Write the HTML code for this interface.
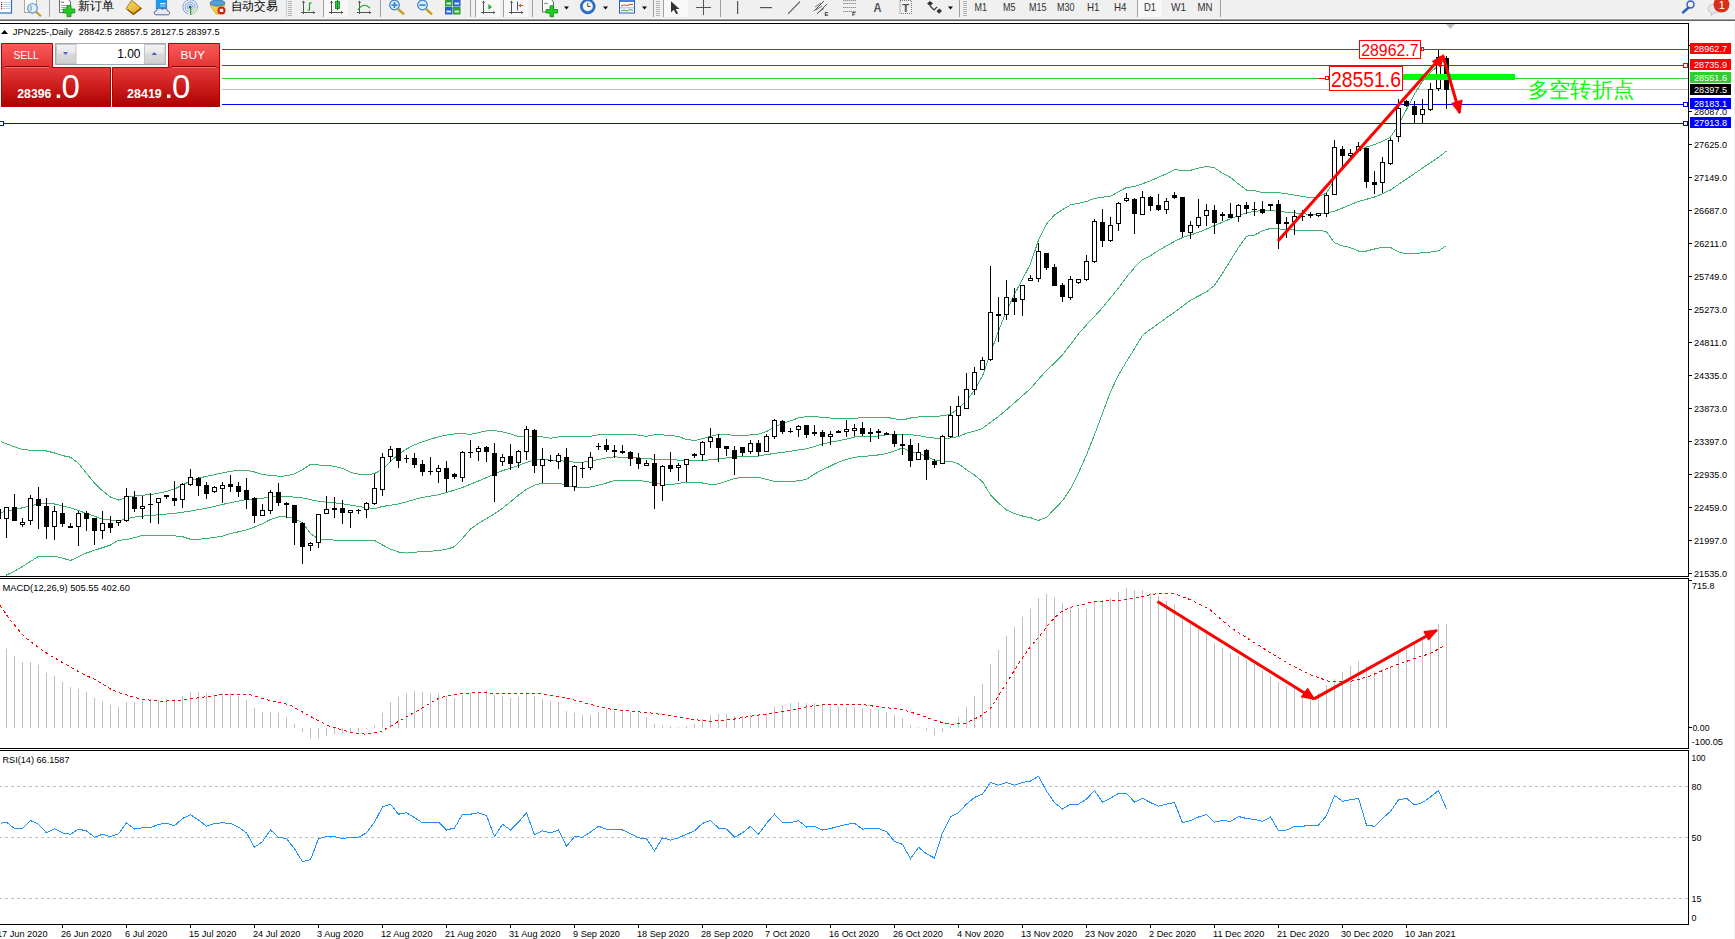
<!DOCTYPE html>
<html><head><meta charset="utf-8"><title>MT4</title>
<style>
html,body{margin:0;padding:0;width:1735px;height:939px;overflow:hidden;background:#fff}
svg{display:block}
text{font-family:"Liberation Sans", sans-serif}
</style></head><body>
<svg width="1735" height="939" viewBox="0 0 1735 939">
<rect x="0" y="0" width="1735" height="939" fill="#fff"/>
<rect x="0" y="0" width="1735" height="18" fill="#f0f0f0"/>
<rect x="0" y="18" width="1735" height="1" fill="#f5f5f5"/>
<rect x="0" y="19" width="1735" height="1" fill="#a0a0a0"/>
<rect x="0" y="20" width="1735" height="1" fill="#646464"/>
<rect x="-1.5" y="-1" width="13" height="14" fill="#fff" stroke="#2f6fc0" stroke-width="1.2"/>
<circle cx="1.6" cy="2.5" r="0.7" fill="#e02020"/>
<rect x="3" y="2.2" width="7.5" height="0.8" fill="#b8c8f0"/>
<circle cx="1.6" cy="4.5" r="0.7" fill="#303030"/>
<rect x="3" y="4.2" width="7.5" height="0.8" fill="#b8c8f0"/>
<circle cx="1.6" cy="6.5" r="0.7" fill="#303030"/>
<rect x="3" y="6.2" width="7.5" height="0.8" fill="#b8c8f0"/>
<circle cx="1.6" cy="8.5" r="0.7" fill="#e02020"/>
<rect x="3" y="8.2" width="7.5" height="0.8" fill="#b8c8f0"/>
<rect x="24.5" y="-1" width="12" height="13.5" fill="#fbfbf5" stroke="#b0a890" stroke-width="1"/>
<circle cx="32.5" cy="8.3" r="4.8" fill="#dff0fa" stroke="#5a90d8" stroke-width="1.2"/>
<path d="M31,5.5 V11" stroke="#9ab" stroke-width="1.5"/>
<path d="M36.3,12 L41,16.2" stroke="#c8a020" stroke-width="2.2"/>
<rect x="49" y="0" width="1" height="17" fill="#a0a0a0"/>
<path d="M59.5,-1 H68 L70.5,2 V12.5 H59.5 Z" fill="#fff" stroke="#666" stroke-width="1"/>
<rect x="61" y="1.5" width="3" height="1.5" fill="#999"/><rect x="61" y="5" width="6" height="0.8" fill="#888"/><rect x="61" y="7" width="6" height="0.8" fill="#888"/><rect x="61" y="9" width="5" height="0.8" fill="#888"/>
<path d="M67,5.5 H71 V9 H74.8 V12.9 H71 V16.7 H67 V12.9 H63.2 V9 H67 Z" fill="#22cc22" stroke="#0a8a0a" stroke-width="0.8"/>
<text x="77.5" y="10" font-size="12" fill="#000" textLength="36" lengthAdjust="spacingAndGlyphs">新订单</text>
<defs><linearGradient id="ggold" x1="0" y1="0" x2="1" y2="1"><stop offset="0" stop-color="#f8e070"/><stop offset="1" stop-color="#d8a010"/></linearGradient></defs>
<path d="M131.8,0.3 L141.7,8.5 L133.4,14.8 L126,8.5 Z" fill="url(#ggold)" stroke="#a86a10" stroke-width="0.9" stroke-linejoin="round"/>
<path d="M127.5,9.5 L133.5,14 L141,8.3" fill="none" stroke="#8a5208" stroke-width="1.3"/>
<path d="M156.3,-1 H166.6 V9 H156.3 Z" fill="#1a9af0" stroke="#1070c8" stroke-width="0.7"/>
<rect x="160" y="3" width="5.5" height="1.3" fill="#e8f6ff"/><rect x="160" y="5.5" width="5.5" height="1" fill="#9cd4ff"/>
<path d="M156,14.8 C153.5,14.8 153.5,10.8 156.3,10.8 C156.8,8.2 160.5,7.2 162,9.5 C163.5,8 167.5,8.2 167.5,11 C170.3,11 170.3,14.8 167.8,14.8 Z" fill="#e6eaf4" stroke="#4a5c90" stroke-width="0.9"/>
<g fill="none" stroke-width="0.9">
<path d="M188.202,13.981 A7.3,7.3 0 1 1 197.18099999999998,8.798" stroke="#4070d0" opacity="0.7"/>
<path d="M197.18099999999998,8.798 A7.3,7.3 0 0 1 191.56,14.054" stroke="#60a860" opacity="0.7"/>
<path d="M188.79999999999998,11.75 A5.0,5.0 0 1 1 194.95,8.200000000000001" stroke="#4070d0" opacity="0.7"/>
<path d="M194.95,8.200000000000001 A5.0,5.0 0 0 1 191.1,11.8" stroke="#60a860" opacity="0.7"/>
<path d="M189.346,9.713000000000001 A2.9,2.9 0 1 1 192.91299999999998,7.654" stroke="#4070d0" opacity="0.7"/>
<path d="M192.91299999999998,7.654 A2.9,2.9 0 0 1 190.68,9.742" stroke="#60a860" opacity="0.7"/>
</g>
<circle cx="190.1" cy="6.9" r="1.5" fill="#2050c0"/>
<rect x="190" y="7" width="1.2" height="8" fill="#20a020"/>
<path d="M210,5 Q217,-1 225,5 L219,14 L216,14 Z" fill="#f0d040" stroke="#c0a020" stroke-width="0.8"/>
<ellipse cx="217.5" cy="3" rx="7.5" ry="3" fill="#50a0d8" stroke="#3070b0" stroke-width="0.8"/>
<circle cx="221.5" cy="10.4" r="4" fill="#d02010"/><rect x="219.8" y="8.8" width="3.4" height="3.2" fill="#fff"/>
<text x="230.5" y="10" font-size="12" fill="#000" textLength="47" lengthAdjust="spacingAndGlyphs">自动交易</text>
<rect x="288" y="1" width="4" height="1" fill="#b4b4b4"/>
<rect x="288" y="3" width="4" height="1" fill="#b4b4b4"/>
<rect x="288" y="5" width="4" height="1" fill="#b4b4b4"/>
<rect x="288" y="7" width="4" height="1" fill="#b4b4b4"/>
<rect x="288" y="9" width="4" height="1" fill="#b4b4b4"/>
<rect x="288" y="11" width="4" height="1" fill="#b4b4b4"/>
<rect x="288" y="13" width="4" height="1" fill="#b4b4b4"/>
<rect x="288" y="15" width="4" height="1" fill="#b4b4b4"/>
<rect x="286" y="0" width="1" height="17" fill="#d0d0d0"/>
<g stroke="#555" stroke-width="1" fill="none" shape-rendering="crispEdges"><path d="M303.5,1 V14"/><path d="M301,12.5 H315"/></g>
<path d="M302,3 L303.5,0.5 L305,3 Z" fill="#555"/>
<path d="M313,11 L315.5,12.5 L313,14 Z" fill="#555"/>
<path d="M307.5,10 H309.5 V3 H311.8" fill="none" stroke="#20a020" stroke-width="1.2"/>
<rect x="323" y="0" width="1" height="17" fill="#a0a0a0"/>
<rect x="324" y="0" width="24" height="17" fill="#f8f8f8"/>
<g stroke="#555" stroke-width="1" fill="none" shape-rendering="crispEdges"><path d="M331.5,1 V14"/><path d="M329,12.5 H343"/></g>
<path d="M330,3 L331.5,0.5 L333,3 Z" fill="#555"/>
<path d="M341,11 L343.5,12.5 L341,14 Z" fill="#555"/>
<rect x="335.5" y="1.5" width="4" height="7" fill="#30d050" stroke="#108020" stroke-width="0.8"/>
<rect x="337" y="0" width="1" height="10" fill="#108020"/>
<g stroke="#555" stroke-width="1" fill="none" shape-rendering="crispEdges"><path d="M359.5,1 V14"/><path d="M357,12.5 H371"/></g>
<path d="M358,3 L359.5,0.5 L361,3 Z" fill="#555"/>
<path d="M369,11 L371.5,12.5 L369,14 Z" fill="#555"/>
<path d="M357.8,9.9 Q363.9,1.5 370,8.2" fill="none" stroke="#20a020" stroke-width="1.1"/>
<rect x="380" y="0" width="1" height="17" fill="#a0a0a0"/>
<path d="M398.0,9 L404.0,14.3" stroke="#c8a020" stroke-width="2.4"/>
<circle cx="394.5" cy="5" r="4.8" fill="#d8ecfa" stroke="#3a80d0" stroke-width="1.2"/>
<rect x="391.5" y="4.3" width="6" height="1.6" fill="#3a80d0"/>
<rect x="393.7" y="2" width="1.6" height="6" fill="#3a80d0"/>
<path d="M426.0,9 L432.0,14.3" stroke="#c8a020" stroke-width="2.4"/>
<circle cx="422.5" cy="5" r="4.8" fill="#d8ecfa" stroke="#3a80d0" stroke-width="1.2"/>
<rect x="419.5" y="4.3" width="6" height="1.6" fill="#3a80d0"/>
<rect x="445" y="-1" width="7.5" height="7.5" fill="#30a030"/>
<rect x="446.5" y="2.5" width="4.5" height="2" fill="#fff" opacity="0.85"/>
<rect x="453" y="-1" width="7.5" height="7.5" fill="#2a60d0"/>
<rect x="454.5" y="2.5" width="4.5" height="2" fill="#fff" opacity="0.85"/>
<rect x="445" y="7" width="7.5" height="7.5" fill="#2a60d0"/>
<rect x="446.5" y="10.5" width="4.5" height="2" fill="#fff" opacity="0.85"/>
<rect x="453" y="7" width="7.5" height="7.5" fill="#30a030"/>
<rect x="454.5" y="10.5" width="4.5" height="2" fill="#fff" opacity="0.85"/>
<rect x="470" y="0" width="1" height="17" fill="#a0a0a0"/>
<rect x="475" y="0" width="1" height="17" fill="#a0a0a0"/>
<rect x="476" y="0" width="24" height="17" fill="#f8f8f8"/>
<g stroke="#555" stroke-width="1" fill="none" shape-rendering="crispEdges"><path d="M483.5,1 V14"/><path d="M481,12.5 H495"/></g>
<path d="M482,3 L483.5,0.5 L485,3 Z" fill="#555"/>
<path d="M493,11 L495.5,12.5 L493,14 Z" fill="#555"/>
<path d="M488.4,4 L492,7 L488.4,9.8 Z" fill="#20b020"/>
<rect x="503" y="0" width="1" height="17" fill="#a0a0a0"/>
<rect x="504" y="0" width="24" height="17" fill="#f8f8f8"/>
<g stroke="#555" stroke-width="1" fill="none" shape-rendering="crispEdges"><path d="M511.5,1 V14"/><path d="M509,12.5 H523"/></g>
<path d="M510,3 L511.5,0.5 L513,3 Z" fill="#555"/>
<path d="M521,11 L523.5,12.5 L521,14 Z" fill="#555"/>
<rect x="517" y="1.5" width="1" height="9" fill="#2060c0"/>
<path d="M518.5,5.5 H523" stroke="#e05010" stroke-width="1"/><path d="M518.5,5.5 L521,3.5 L521,7.5 Z" fill="#e05010"/>
<rect x="532" y="0" width="1" height="17" fill="#a0a0a0"/>
<path d="M542.5,-1 H551 L553.5,2 V12 H542.5 Z" fill="#fff" stroke="#666" stroke-width="1"/>
<path d="M544,4 Q546,2 548,4" fill="none" stroke="#555" stroke-width="0.8"/>
<path d="M550,5.8 H553.5 V9.5 H557.6 V13 H553.5 V16.7 H550 V13 H546 V9.5 H550 Z" fill="#22cc22" stroke="#0a8a0a" stroke-width="0.8"/>
<path d="M564,6.5 L569,6.5 L566.5,9.5 Z" fill="#000"/>
<circle cx="587.8" cy="6.5" r="7.3" fill="#2a70d0" stroke="#1a50a0" stroke-width="0.8"/>
<circle cx="587.8" cy="6.3" r="5" fill="#f4f4f4"/>
<path d="M587.8,3 V6.5 H590.5" fill="none" stroke="#333" stroke-width="0.9"/>
<path d="M603,6.5 L608,6.5 L605.5,9.5 Z" fill="#000"/>
<rect x="619.5" y="-1" width="15" height="14" fill="#fff" stroke="#2a60c0" stroke-width="1"/>
<rect x="620" y="-1" width="14" height="3" fill="#4a80d8"/>
<path d="M621,6 L624,5 L627,5.5 L630,4.5 L633,4.5" fill="none" stroke="#c03020" stroke-width="0.9"/>
<rect x="620" y="7.5" width="14" height="0.8" fill="#7aa0e0"/>
<path d="M621,11 L624,10 L627,11 L630,9.5 L633,10.5" fill="none" stroke="#20a020" stroke-width="0.9"/>
<path d="M642,6.5 L647,6.5 L644.5,9.5 Z" fill="#000"/>
<rect x="653" y="0" width="1" height="17" fill="#a0a0a0"/>
<rect x="656" y="1" width="4" height="1" fill="#b4b4b4"/>
<rect x="656" y="3" width="4" height="1" fill="#b4b4b4"/>
<rect x="656" y="5" width="4" height="1" fill="#b4b4b4"/>
<rect x="656" y="7" width="4" height="1" fill="#b4b4b4"/>
<rect x="656" y="9" width="4" height="1" fill="#b4b4b4"/>
<rect x="656" y="11" width="4" height="1" fill="#b4b4b4"/>
<rect x="656" y="13" width="4" height="1" fill="#b4b4b4"/>
<rect x="656" y="15" width="4" height="1" fill="#b4b4b4"/>
<rect x="663" y="0" width="1" height="17" fill="#a0a0a0"/>
<rect x="664" y="0" width="24" height="17" fill="#f8f8f8"/>
<path d="M671,1.2 L671,12.5 L673.8,9.8 L676.2,14.2 L678,13.3 L675.7,9 L679.5,9 Z" fill="#333"/>
<g fill="#555"><rect x="703" y="0" width="1" height="15"/><rect x="696" y="7" width="15" height="1"/></g>
<rect x="720" y="0" width="1" height="17" fill="#a0a0a0"/>
<rect x="737" y="1" width="1.2" height="13" fill="#555"/>
<rect x="760" y="7" width="12" height="1.2" fill="#555"/>
<path d="M788,13.8 L800,1.7" stroke="#555" stroke-width="1.1"/>
<path d="M814,11 L824,1 M817,14 L827,4" stroke="#555" stroke-width="1"/>
<path d="M815,7 L821,3 M816,10 L822,6 M818,12.5 L824,8.5" stroke="#555" stroke-width="0.8"/>
<text x="824.5" y="15.5" font-size="6" font-weight="bold" fill="#333">E</text>
<path d="M843.3,0.6 H856" stroke="#555" stroke-width="0.9" stroke-dasharray="1 1"/>
<path d="M843.3,3.5 H856" stroke="#555" stroke-width="0.9" stroke-dasharray="1 1"/>
<path d="M843.3,7.5 H856" stroke="#555" stroke-width="0.9" stroke-dasharray="1 1"/>
<path d="M843.3,11.5 H856" stroke="#555" stroke-width="0.9" stroke-dasharray="1 1"/>
<text x="852" y="15.8" font-size="6" font-weight="bold" fill="#333">F</text>
<text x="873.5" y="11.5" font-size="12" font-weight="bold" fill="#555" textLength="8" lengthAdjust="spacingAndGlyphs">A</text>
<rect x="900" y="0.5" width="11.5" height="13" fill="none" stroke="#666" stroke-width="0.9" stroke-dasharray="1 1"/>
<text x="902.3" y="11.5" font-size="11" font-weight="bold" fill="#555" textLength="7" lengthAdjust="spacingAndGlyphs">T</text>
<path d="M927,3.5 L930,1 L933,3.5 L930,6 Z M936.5,11 L939.5,8.5 L942,11 L939,13.8 Z" fill="#333"/>
<path d="M930,6 L934,10 L937,7" fill="none" stroke="#333" stroke-width="1.2"/>
<path d="M948,6.5 L953,6.5 L950.5,9.5 Z" fill="#000"/>
<rect x="959" y="0" width="1" height="17" fill="#a0a0a0"/>
<rect x="963" y="1" width="4" height="1" fill="#b4b4b4"/>
<rect x="963" y="3" width="4" height="1" fill="#b4b4b4"/>
<rect x="963" y="5" width="4" height="1" fill="#b4b4b4"/>
<rect x="963" y="7" width="4" height="1" fill="#b4b4b4"/>
<rect x="963" y="9" width="4" height="1" fill="#b4b4b4"/>
<rect x="963" y="11" width="4" height="1" fill="#b4b4b4"/>
<rect x="963" y="13" width="4" height="1" fill="#b4b4b4"/>
<rect x="963" y="15" width="4" height="1" fill="#b4b4b4"/>
<text x="974.5" y="11" font-size="10.5" fill="#303030" textLength="12.5" lengthAdjust="spacingAndGlyphs">M1</text>
<text x="1003" y="11" font-size="10.5" fill="#303030" textLength="12.5" lengthAdjust="spacingAndGlyphs">M5</text>
<text x="1029" y="11" font-size="10.5" fill="#303030" textLength="17.5" lengthAdjust="spacingAndGlyphs">M15</text>
<text x="1057" y="11" font-size="10.5" fill="#303030" textLength="17.5" lengthAdjust="spacingAndGlyphs">M30</text>
<text x="1087" y="11" font-size="10.5" fill="#303030" textLength="12.5" lengthAdjust="spacingAndGlyphs">H1</text>
<text x="1114" y="11" font-size="10.5" fill="#303030" textLength="12.5" lengthAdjust="spacingAndGlyphs">H4</text>
<rect x="1138" y="0" width="24" height="17" fill="#f8f8f8"/>
<rect x="1137" y="0" width="1" height="17" fill="#a0a0a0"/>
<text x="1144" y="11" font-size="10.5" fill="#303030" textLength="12" lengthAdjust="spacingAndGlyphs">D1</text>
<text x="1171" y="11" font-size="10.5" fill="#303030" textLength="15" lengthAdjust="spacingAndGlyphs">W1</text>
<text x="1197.5" y="11" font-size="10.5" fill="#303030" textLength="15" lengthAdjust="spacingAndGlyphs">MN</text>
<rect x="1220" y="0" width="1" height="17" fill="#a0a0a0"/>
<path d="M1683,12.5 L1688,8" stroke="#2a60c0" stroke-width="2.5" stroke-linecap="round"/>
<circle cx="1690.5" cy="4.5" r="3.5" fill="none" stroke="#2a60c0" stroke-width="1.5"/>
<path d="M1708,9 Q1708,4.5 1714,4.5 Q1720,4.5 1720,9 Q1720,13 1714,13 L1711,15.5 L1711.5,12.8 Q1708,12 1708,9 Z" fill="#e4e8ee" stroke="#b8bcc4" stroke-width="0.8"/>
<circle cx="1721.5" cy="4.5" r="8" fill="#d83018"/>
<text x="1718.8" y="9" font-size="11" fill="#fff" font-family="Liberation Serif, serif">1</text>
<rect x="1734" y="21" width="1" height="918" fill="#f0f0f0"/>
<rect x="0" y="23" width="1689" height="1" fill="#000"/>
<rect x="0" y="576" width="1689" height="1" fill="#000"/>
<rect x="1688" y="23" width="1" height="554" fill="#000"/>
<path d="M1446,24 L1455,24 L1450.5,29 Z" fill="#c0c0c0"/>
<rect x="0" y="578" width="1689" height="1" fill="#000"/>
<rect x="0" y="748" width="1689" height="1" fill="#000"/>
<rect x="1688" y="578" width="1" height="171" fill="#000"/>
<rect x="0" y="750" width="1689" height="1" fill="#000"/>
<rect x="0" y="924" width="1689" height="1" fill="#000"/>
<rect x="1688" y="750" width="1" height="175" fill="#000"/>
<g shape-rendering="crispEdges">
<rect x="222" y="49" width="1466" height="1" fill="#ff0000"/>
<rect x="222" y="65" width="1466" height="1" fill="#ff0000"/>
<rect x="222" y="78" width="1466" height="1" fill="#32cd32"/>
<rect x="222" y="89" width="1466" height="1" fill="#c0c0c0"/>
<rect x="222" y="104" width="1466" height="1" fill="#0000ff"/>
<rect x="0" y="123" width="1688" height="1" fill="#0000ff"/>
</g>
<g><polyline points="0.5,441.6 6.5,443.8 14.5,446.8 22.5,449.5 30.5,450.3 38.5,450.8 46.5,451.0 54.5,453.0 62.5,455.6 70.5,457.2 78.5,463.4 86.5,473.3 94.5,483.0 102.5,490.8 110.5,497.0 118.5,500.0 126.5,497.5 134.5,495.9 142.5,495.2 150.5,494.6 158.5,493.1 166.5,491.6 174.5,489.0 182.5,485.1 190.5,480.8 198.5,478.2 206.5,476.3 214.5,474.6 222.5,472.9 230.5,471.2 238.5,470.6 246.5,470.3 254.5,472.0 262.5,474.5 270.5,475.4 278.5,476.2 286.5,475.9 294.5,473.8 302.5,469.6 310.5,464.4 318.5,465.0 326.5,465.4 334.5,466.3 342.5,468.3 350.5,472.4 358.5,474.1 366.5,474.9 374.5,473.6 382.5,469.2 390.5,461.5 398.5,454.3 406.5,449.0 414.5,444.9 422.5,441.8 430.5,439.2 438.5,436.8 446.5,435.1 454.5,434.0 462.5,433.5 470.5,434.4 478.5,432.6 486.5,430.9 494.5,430.6 502.5,431.9 510.5,433.7 518.5,436.6 526.5,436.7 534.5,436.5 542.5,437.0 550.5,438.2 558.5,437.0 566.5,436.6 574.5,436.4 582.5,436.3 590.5,436.3 598.5,434.7 606.5,434.3 614.5,434.3 622.5,434.3 630.5,434.4 638.5,435.1 646.5,436.4 654.5,434.6 662.5,434.9 670.5,435.5 678.5,436.5 686.5,439.5 694.5,440.5 702.5,438.7 710.5,436.3 718.5,434.5 726.5,434.6 734.5,435.4 742.5,435.4 750.5,434.9 758.5,434.2 766.5,431.6 774.5,427.1 782.5,423.4 790.5,420.8 798.5,417.9 806.5,416.7 814.5,416.6 822.5,417.3 830.5,418.1 838.5,418.6 846.5,418.6 854.5,418.6 862.5,417.3 870.5,417.3 878.5,417.3 886.5,417.3 894.5,418.7 902.5,420.0 910.5,418.0 918.5,416.9 926.5,416.5 934.5,416.2 942.5,415.9 950.5,414.4 958.5,408.2 966.5,401.0 974.5,390.0 982.5,375.9 990.5,353.4 998.5,330.9 1006.5,311.1 1014.5,294.2 1022.5,279.2 1030.5,263.8 1038.5,240.1 1046.5,223.9 1054.5,215.0 1062.5,209.7 1070.5,204.9 1078.5,203.3 1086.5,201.5 1094.5,198.4 1102.5,197.2 1110.5,196.3 1118.5,191.7 1126.5,187.5 1134.5,186.7 1142.5,183.8 1150.5,180.7 1158.5,177.3 1166.5,173.6 1174.5,169.8 1182.5,170.3 1190.5,170.3 1198.5,168.1 1206.5,166.4 1214.5,167.8 1222.5,173.3 1230.5,177.5 1238.5,184.0 1246.5,190.1 1254.5,190.6 1262.5,192.6 1270.5,192.6 1278.5,192.6 1286.5,193.7 1294.5,195.1 1302.5,196.5 1310.5,197.8 1318.5,196.9 1326.5,193.0 1334.5,180.0 1342.5,166.6 1350.5,157.7 1358.5,150.5 1366.5,147.0 1374.5,144.5 1382.5,141.4 1390.5,137.1 1398.5,124.9 1406.5,109.5 1414.5,94.1 1422.5,81.2 1430.5,72.4 1438.5,65.4 1446.5,58.0" fill="none" shape-rendering="crispEdges" stroke="#3cb371" stroke-width="1"/>
<polyline points="0.5,512.6 6.5,511.3 14.5,509.5 22.5,507.8 30.5,505.9 38.5,503.9 46.5,503.9 54.5,504.0 62.5,505.9 70.5,507.8 78.5,510.6 86.5,513.4 94.5,516.3 102.5,519.2 110.5,520.0 118.5,520.9 126.5,518.6 134.5,517.1 142.5,516.2 150.5,515.4 158.5,514.8 166.5,514.1 174.5,513.3 182.5,512.2 190.5,511.1 198.5,509.6 206.5,508.1 214.5,506.4 222.5,504.5 230.5,502.6 238.5,501.1 246.5,499.6 254.5,498.7 262.5,498.2 270.5,497.3 278.5,496.3 286.5,496.5 294.5,497.1 302.5,497.9 310.5,499.6 318.5,501.4 326.5,502.2 334.5,502.9 342.5,503.7 350.5,505.1 358.5,506.5 366.5,507.6 374.5,508.6 382.5,506.5 390.5,505.2 398.5,503.9 406.5,501.8 414.5,499.5 422.5,497.4 430.5,496.1 438.5,494.8 446.5,492.6 454.5,490.1 462.5,487.4 470.5,484.2 478.5,481.0 486.5,477.6 494.5,474.2 502.5,470.6 510.5,468.3 518.5,465.5 526.5,462.3 534.5,460.2 542.5,459.6 550.5,460.1 558.5,460.6 566.5,461.4 574.5,462.1 582.5,462.2 590.5,461.3 598.5,459.4 606.5,458.0 614.5,456.8 622.5,457.5 630.5,457.5 638.5,457.8 646.5,458.7 654.5,459.2 662.5,459.3 670.5,459.4 678.5,460.1 686.5,460.8 694.5,460.9 702.5,460.4 710.5,459.8 718.5,458.9 726.5,458.0 734.5,457.1 742.5,456.2 750.5,456.4 758.5,456.1 766.5,454.6 774.5,453.4 782.5,452.3 790.5,451.2 798.5,450.0 806.5,448.8 814.5,446.6 822.5,444.0 830.5,442.1 838.5,440.7 846.5,439.1 854.5,437.0 862.5,436.8 870.5,436.6 878.5,436.0 886.5,434.8 894.5,434.2 902.5,434.1 910.5,434.7 918.5,435.6 926.5,437.1 934.5,438.1 942.5,438.2 950.5,438.0 958.5,436.6 966.5,433.2 974.5,431.2 982.5,428.4 990.5,422.3 998.5,416.5 1006.5,409.8 1014.5,402.8 1022.5,395.6 1030.5,388.6 1038.5,379.4 1046.5,370.4 1054.5,363.0 1062.5,354.9 1070.5,344.4 1078.5,333.8 1086.5,324.8 1094.5,316.4 1102.5,307.6 1110.5,297.8 1118.5,288.0 1126.5,277.1 1134.5,267.6 1142.5,259.8 1150.5,255.7 1158.5,250.5 1166.5,245.8 1174.5,241.4 1182.5,237.5 1190.5,235.0 1198.5,232.3 1206.5,229.0 1214.5,225.6 1222.5,222.2 1230.5,218.7 1238.5,215.6 1246.5,212.7 1254.5,211.5 1262.5,210.5 1270.5,210.5 1278.5,211.4 1286.5,212.2 1294.5,212.8 1302.5,213.7 1310.5,214.5 1318.5,213.8 1326.5,213.1 1334.5,211.2 1342.5,208.0 1350.5,204.7 1358.5,201.4 1366.5,199.3 1374.5,197.0 1382.5,193.8 1390.5,190.0 1398.5,184.5 1406.5,179.0 1414.5,173.6 1422.5,168.1 1430.5,162.7 1438.5,157.3 1446.5,151.1" fill="none" shape-rendering="crispEdges" stroke="#3cb371" stroke-width="1"/>
<polyline points="7.0,575.0 6.5,575.0 14.5,571.2 22.5,566.4 30.5,561.4 38.5,556.3 46.5,556.3 54.5,556.3 62.5,558.1 70.5,560.5 78.5,556.8 86.5,553.0 94.5,550.3 102.5,547.7 110.5,545.0 118.5,540.3 126.5,539.6 134.5,537.7 142.5,535.4 150.5,535.4 158.5,535.4 166.5,535.6 174.5,535.9 182.5,536.7 190.5,539.3 198.5,539.3 206.5,538.5 214.5,537.5 222.5,536.1 230.5,533.5 238.5,531.8 246.5,529.9 254.5,527.0 262.5,523.7 270.5,519.5 278.5,516.9 286.5,516.9 294.5,518.3 302.5,523.1 310.5,533.5 318.5,539.2 326.5,539.7 334.5,540.1 342.5,540.2 350.5,540.4 358.5,540.4 366.5,540.4 374.5,540.4 382.5,545.0 390.5,549.2 398.5,552.0 406.5,553.1 414.5,552.3 422.5,551.5 430.5,551.3 438.5,550.5 446.5,549.3 454.5,546.7 462.5,538.4 470.5,529.1 478.5,523.3 486.5,518.7 494.5,513.7 502.5,508.3 510.5,501.7 518.5,495.1 526.5,489.3 534.5,485.1 542.5,483.0 550.5,483.0 558.5,483.0 566.5,485.4 574.5,487.2 582.5,487.3 590.5,487.0 598.5,485.2 606.5,483.0 614.5,480.4 622.5,480.2 630.5,480.4 638.5,480.7 646.5,481.3 654.5,483.5 662.5,484.3 670.5,484.9 678.5,483.4 686.5,482.1 694.5,482.5 702.5,483.0 710.5,484.4 718.5,483.9 726.5,481.1 734.5,478.4 742.5,477.4 750.5,477.4 758.5,477.4 766.5,479.4 774.5,481.5 782.5,481.5 790.5,481.5 798.5,480.8 806.5,479.4 814.5,474.0 822.5,469.9 830.5,466.0 838.5,462.1 846.5,459.5 854.5,457.3 862.5,456.4 870.5,455.8 878.5,454.9 886.5,453.5 894.5,450.9 902.5,447.9 910.5,451.8 918.5,453.3 926.5,456.4 934.5,460.0 942.5,461.0 950.5,461.3 958.5,463.9 966.5,469.8 974.5,475.1 982.5,481.7 990.5,494.8 998.5,503.1 1006.5,510.0 1014.5,513.7 1022.5,516.0 1030.5,517.7 1038.5,520.4 1046.5,517.4 1054.5,509.1 1062.5,500.7 1070.5,488.9 1078.5,473.0 1086.5,454.9 1094.5,434.8 1102.5,413.3 1110.5,391.9 1118.5,374.9 1126.5,361.5 1134.5,348.7 1142.5,335.2 1150.5,329.4 1158.5,323.6 1166.5,317.8 1174.5,312.2 1182.5,306.4 1190.5,300.3 1198.5,296.0 1206.5,291.9 1214.5,285.4 1222.5,273.3 1230.5,260.4 1238.5,247.5 1246.5,236.3 1254.5,235.1 1262.5,230.9 1270.5,228.4 1278.5,228.9 1286.5,229.7 1294.5,230.0 1302.5,230.0 1310.5,230.0 1318.5,230.0 1326.5,231.8 1334.5,242.8 1342.5,245.8 1350.5,247.7 1358.5,251.0 1366.5,251.0 1374.5,249.0 1382.5,247.1 1390.5,247.5 1398.5,251.9 1406.5,253.8 1414.5,253.5 1422.5,252.8 1430.5,252.1 1438.5,250.8 1446.5,245.6" fill="none" shape-rendering="crispEdges" stroke="#3cb371" stroke-width="1"/></g>
<g fill="#000" shape-rendering="crispEdges"><rect x="-2" y="507" width="1" height="2"/>
<rect x="-2" y="519" width="1" height="2"/>
<rect x="-4" y="509" width="5" height="10"/>
<rect x="6" y="519" width="1" height="19"/>
<rect x="4" y="507" width="5" height="12"/>
<rect x="5" y="508" width="3" height="10" fill="#fff"/>
<rect x="14" y="494" width="1" height="13"/>
<rect x="12" y="507" width="5" height="14"/>
<rect x="22" y="518" width="1" height="4"/>
<rect x="22" y="525" width="1" height="2"/>
<rect x="20" y="522" width="5" height="3"/>
<rect x="21" y="523" width="3" height="1" fill="#fff"/>
<rect x="30" y="495" width="1" height="3"/>
<rect x="30" y="521" width="1" height="4"/>
<rect x="28" y="498" width="5" height="23"/>
<rect x="29" y="499" width="3" height="21" fill="#fff"/>
<rect x="38" y="487" width="1" height="12"/>
<rect x="38" y="506" width="1" height="23"/>
<rect x="36" y="499" width="5" height="7"/>
<rect x="46" y="498" width="1" height="8"/>
<rect x="46" y="527" width="1" height="12"/>
<rect x="44" y="506" width="5" height="21"/>
<rect x="54" y="506" width="1" height="5"/>
<rect x="54" y="527" width="1" height="13"/>
<rect x="52" y="511" width="5" height="16"/>
<rect x="53" y="512" width="3" height="14" fill="#fff"/>
<rect x="62" y="503" width="1" height="10"/>
<rect x="62" y="524" width="1" height="3"/>
<rect x="60" y="513" width="5" height="11"/>
<rect x="70" y="523" width="1" height="3"/>
<rect x="68" y="526" width="5" height="2"/>
<rect x="78" y="511" width="1" height="2"/>
<rect x="78" y="527" width="1" height="19"/>
<rect x="76" y="513" width="5" height="14"/>
<rect x="77" y="514" width="3" height="12" fill="#fff"/>
<rect x="86" y="511" width="1" height="2"/>
<rect x="86" y="519" width="1" height="12"/>
<rect x="84" y="513" width="5" height="6"/>
<rect x="94" y="531" width="1" height="14"/>
<rect x="92" y="518" width="5" height="13"/>
<rect x="102" y="511" width="1" height="12"/>
<rect x="102" y="531" width="1" height="8"/>
<rect x="100" y="523" width="5" height="8"/>
<rect x="101" y="524" width="3" height="6" fill="#fff"/>
<rect x="110" y="516" width="1" height="7"/>
<rect x="110" y="528" width="1" height="5"/>
<rect x="108" y="523" width="5" height="5"/>
<rect x="118" y="523" width="1" height="3"/>
<rect x="116" y="520" width="5" height="3"/>
<rect x="117" y="521" width="3" height="1" fill="#fff"/>
<rect x="126" y="488" width="1" height="8"/>
<rect x="126" y="521" width="1" height="1"/>
<rect x="124" y="496" width="5" height="25"/>
<rect x="125" y="497" width="3" height="23" fill="#fff"/>
<rect x="134" y="491" width="1" height="6"/>
<rect x="134" y="509" width="1" height="3"/>
<rect x="132" y="497" width="5" height="12"/>
<rect x="142" y="496" width="1" height="10"/>
<rect x="142" y="508" width="1" height="11"/>
<rect x="140" y="506" width="5" height="3"/>
<rect x="141" y="507" width="3" height="1" fill="#fff"/>
<rect x="150" y="493" width="1" height="11"/>
<rect x="150" y="505" width="1" height="18"/>
<rect x="148" y="504" width="5" height="1"/>
<rect x="158" y="503" width="1" height="21"/>
<rect x="156" y="498" width="5" height="5"/>
<rect x="157" y="499" width="3" height="3" fill="#fff"/>
<rect x="166" y="497" width="1" height="2"/>
<rect x="164" y="495" width="5" height="2"/>
<rect x="174" y="481" width="1" height="17"/>
<rect x="174" y="501" width="1" height="5"/>
<rect x="172" y="498" width="5" height="3"/>
<rect x="182" y="483" width="1" height="1"/>
<rect x="182" y="500" width="1" height="8"/>
<rect x="180" y="484" width="5" height="16"/>
<rect x="181" y="485" width="3" height="14" fill="#fff"/>
<rect x="190" y="469" width="1" height="8"/>
<rect x="190" y="485" width="1" height="1"/>
<rect x="188" y="477" width="5" height="8"/>
<rect x="189" y="478" width="3" height="6" fill="#fff"/>
<rect x="198" y="477" width="1" height="1"/>
<rect x="198" y="486" width="1" height="10"/>
<rect x="196" y="478" width="5" height="8"/>
<rect x="206" y="482" width="1" height="3"/>
<rect x="206" y="494" width="1" height="5"/>
<rect x="204" y="485" width="5" height="9"/>
<rect x="214" y="486" width="1" height="1"/>
<rect x="214" y="492" width="1" height="1"/>
<rect x="212" y="487" width="5" height="5"/>
<rect x="213" y="488" width="3" height="3" fill="#fff"/>
<rect x="222" y="482" width="1" height="3"/>
<rect x="222" y="489" width="1" height="14"/>
<rect x="220" y="485" width="5" height="4"/>
<rect x="221" y="486" width="3" height="2" fill="#fff"/>
<rect x="230" y="475" width="1" height="9"/>
<rect x="230" y="487" width="1" height="5"/>
<rect x="228" y="484" width="5" height="3"/>
<rect x="238" y="482" width="1" height="4"/>
<rect x="238" y="492" width="1" height="5"/>
<rect x="236" y="486" width="5" height="6"/>
<rect x="246" y="478" width="1" height="12"/>
<rect x="246" y="500" width="1" height="9"/>
<rect x="244" y="490" width="5" height="10"/>
<rect x="254" y="497" width="1" height="1"/>
<rect x="254" y="516" width="1" height="7"/>
<rect x="252" y="498" width="5" height="18"/>
<rect x="262" y="504" width="1" height="6"/>
<rect x="260" y="510" width="5" height="6"/>
<rect x="261" y="511" width="3" height="4" fill="#fff"/>
<rect x="270" y="490" width="1" height="2"/>
<rect x="270" y="511" width="1" height="3"/>
<rect x="268" y="492" width="5" height="19"/>
<rect x="269" y="493" width="3" height="17" fill="#fff"/>
<rect x="278" y="483" width="1" height="9"/>
<rect x="278" y="503" width="1" height="3"/>
<rect x="276" y="492" width="5" height="11"/>
<rect x="286" y="502" width="1" height="1"/>
<rect x="286" y="505" width="1" height="13"/>
<rect x="284" y="503" width="5" height="2"/>
<rect x="294" y="523" width="1" height="22"/>
<rect x="292" y="505" width="5" height="18"/>
<rect x="302" y="522" width="1" height="1"/>
<rect x="302" y="547" width="1" height="17"/>
<rect x="300" y="523" width="5" height="24"/>
<rect x="310" y="542" width="1" height="1"/>
<rect x="310" y="546" width="1" height="5"/>
<rect x="308" y="543" width="5" height="3"/>
<rect x="309" y="544" width="3" height="1" fill="#fff"/>
<rect x="318" y="543" width="1" height="5"/>
<rect x="316" y="514" width="5" height="29"/>
<rect x="317" y="515" width="3" height="27" fill="#fff"/>
<rect x="326" y="496" width="1" height="13"/>
<rect x="324" y="509" width="5" height="5"/>
<rect x="325" y="510" width="3" height="3" fill="#fff"/>
<rect x="334" y="497" width="1" height="11"/>
<rect x="334" y="510" width="1" height="8"/>
<rect x="332" y="508" width="5" height="2"/>
<rect x="342" y="500" width="1" height="8"/>
<rect x="342" y="513" width="1" height="11"/>
<rect x="340" y="508" width="5" height="5"/>
<rect x="350" y="513" width="1" height="15"/>
<rect x="348" y="510" width="5" height="3"/>
<rect x="349" y="511" width="3" height="1" fill="#fff"/>
<rect x="358" y="509" width="1" height="1"/>
<rect x="358" y="511" width="1" height="3"/>
<rect x="356" y="510" width="5" height="1"/>
<rect x="366" y="502" width="1" height="1"/>
<rect x="366" y="510" width="1" height="8"/>
<rect x="364" y="503" width="5" height="7"/>
<rect x="365" y="504" width="3" height="5" fill="#fff"/>
<rect x="374" y="474" width="1" height="14"/>
<rect x="374" y="504" width="1" height="1"/>
<rect x="372" y="488" width="5" height="16"/>
<rect x="373" y="489" width="3" height="14" fill="#fff"/>
<rect x="382" y="453" width="1" height="4"/>
<rect x="382" y="490" width="1" height="6"/>
<rect x="380" y="457" width="5" height="33"/>
<rect x="381" y="458" width="3" height="31" fill="#fff"/>
<rect x="390" y="446" width="1" height="3"/>
<rect x="390" y="457" width="1" height="5"/>
<rect x="388" y="449" width="5" height="8"/>
<rect x="389" y="450" width="3" height="6" fill="#fff"/>
<rect x="398" y="461" width="1" height="7"/>
<rect x="396" y="448" width="5" height="13"/>
<rect x="406" y="455" width="1" height="3"/>
<rect x="406" y="459" width="1" height="4"/>
<rect x="404" y="458" width="5" height="1"/>
<rect x="414" y="453" width="1" height="5"/>
<rect x="414" y="465" width="1" height="3"/>
<rect x="412" y="458" width="5" height="7"/>
<rect x="422" y="460" width="1" height="4"/>
<rect x="422" y="472" width="1" height="4"/>
<rect x="420" y="464" width="5" height="8"/>
<rect x="430" y="457" width="1" height="14"/>
<rect x="430" y="472" width="1" height="3"/>
<rect x="428" y="471" width="5" height="1"/>
<rect x="438" y="465" width="1" height="3"/>
<rect x="438" y="472" width="1" height="11"/>
<rect x="436" y="468" width="5" height="4"/>
<rect x="437" y="469" width="3" height="2" fill="#fff"/>
<rect x="446" y="461" width="1" height="7"/>
<rect x="446" y="479" width="1" height="13"/>
<rect x="444" y="468" width="5" height="11"/>
<rect x="454" y="473" width="1" height="1"/>
<rect x="454" y="477" width="1" height="2"/>
<rect x="452" y="474" width="5" height="3"/>
<rect x="462" y="451" width="1" height="1"/>
<rect x="462" y="478" width="1" height="4"/>
<rect x="460" y="452" width="5" height="26"/>
<rect x="461" y="453" width="3" height="24" fill="#fff"/>
<rect x="470" y="440" width="1" height="12"/>
<rect x="470" y="453" width="1" height="5"/>
<rect x="468" y="452" width="5" height="1"/>
<rect x="478" y="446" width="1" height="2"/>
<rect x="478" y="452" width="1" height="9"/>
<rect x="476" y="448" width="5" height="4"/>
<rect x="477" y="449" width="3" height="2" fill="#fff"/>
<rect x="486" y="446" width="1" height="1"/>
<rect x="486" y="452" width="1" height="10"/>
<rect x="484" y="447" width="5" height="5"/>
<rect x="494" y="443" width="1" height="10"/>
<rect x="494" y="476" width="1" height="26"/>
<rect x="492" y="453" width="5" height="23"/>
<rect x="502" y="454" width="1" height="3"/>
<rect x="502" y="462" width="1" height="4"/>
<rect x="500" y="457" width="5" height="5"/>
<rect x="501" y="458" width="3" height="3" fill="#fff"/>
<rect x="510" y="444" width="1" height="12"/>
<rect x="510" y="464" width="1" height="6"/>
<rect x="508" y="456" width="5" height="8"/>
<rect x="518" y="450" width="1" height="1"/>
<rect x="518" y="463" width="1" height="5"/>
<rect x="516" y="451" width="5" height="12"/>
<rect x="517" y="452" width="3" height="10" fill="#fff"/>
<rect x="526" y="426" width="1" height="3"/>
<rect x="526" y="452" width="1" height="8"/>
<rect x="524" y="429" width="5" height="23"/>
<rect x="525" y="430" width="3" height="21" fill="#fff"/>
<rect x="534" y="429" width="1" height="1"/>
<rect x="534" y="466" width="1" height="7"/>
<rect x="532" y="430" width="5" height="36"/>
<rect x="542" y="448" width="1" height="11"/>
<rect x="542" y="466" width="1" height="17"/>
<rect x="540" y="459" width="5" height="7"/>
<rect x="541" y="460" width="3" height="5" fill="#fff"/>
<rect x="550" y="455" width="1" height="5"/>
<rect x="550" y="461" width="1" height="1"/>
<rect x="548" y="460" width="5" height="1"/>
<rect x="558" y="453" width="1" height="2"/>
<rect x="558" y="462" width="1" height="7"/>
<rect x="556" y="455" width="5" height="7"/>
<rect x="557" y="456" width="3" height="5" fill="#fff"/>
<rect x="566" y="448" width="1" height="9"/>
<rect x="564" y="457" width="5" height="30"/>
<rect x="574" y="465" width="1" height="1"/>
<rect x="574" y="487" width="1" height="4"/>
<rect x="572" y="466" width="5" height="21"/>
<rect x="573" y="467" width="3" height="19" fill="#fff"/>
<rect x="582" y="462" width="1" height="6"/>
<rect x="582" y="469" width="1" height="9"/>
<rect x="580" y="468" width="5" height="1"/>
<rect x="590" y="452" width="1" height="5"/>
<rect x="590" y="468" width="1" height="2"/>
<rect x="588" y="457" width="5" height="11"/>
<rect x="589" y="458" width="3" height="9" fill="#fff"/>
<rect x="598" y="443" width="1" height="3"/>
<rect x="598" y="447" width="1" height="3"/>
<rect x="596" y="446" width="5" height="1"/>
<rect x="606" y="439" width="1" height="6"/>
<rect x="606" y="450" width="1" height="2"/>
<rect x="604" y="445" width="5" height="5"/>
<rect x="614" y="445" width="1" height="5"/>
<rect x="614" y="452" width="1" height="6"/>
<rect x="612" y="450" width="5" height="2"/>
<rect x="622" y="445" width="1" height="6"/>
<rect x="622" y="453" width="1" height="1"/>
<rect x="620" y="451" width="5" height="2"/>
<rect x="630" y="451" width="1" height="1"/>
<rect x="630" y="459" width="1" height="7"/>
<rect x="628" y="452" width="5" height="7"/>
<rect x="638" y="453" width="1" height="5"/>
<rect x="638" y="464" width="1" height="5"/>
<rect x="636" y="458" width="5" height="6"/>
<rect x="646" y="460" width="1" height="3"/>
<rect x="644" y="463" width="5" height="3"/>
<rect x="645" y="464" width="3" height="1" fill="#fff"/>
<rect x="654" y="454" width="1" height="9"/>
<rect x="654" y="486" width="1" height="23"/>
<rect x="652" y="463" width="5" height="23"/>
<rect x="662" y="465" width="1" height="1"/>
<rect x="662" y="486" width="1" height="15"/>
<rect x="660" y="466" width="5" height="20"/>
<rect x="661" y="467" width="3" height="18" fill="#fff"/>
<rect x="670" y="452" width="1" height="13"/>
<rect x="670" y="469" width="1" height="3"/>
<rect x="668" y="465" width="5" height="4"/>
<rect x="678" y="463" width="1" height="2"/>
<rect x="678" y="468" width="1" height="13"/>
<rect x="676" y="465" width="5" height="3"/>
<rect x="677" y="466" width="3" height="1" fill="#fff"/>
<rect x="686" y="465" width="1" height="17"/>
<rect x="684" y="459" width="5" height="6"/>
<rect x="685" y="460" width="3" height="4" fill="#fff"/>
<rect x="694" y="453" width="1" height="1"/>
<rect x="694" y="456" width="1" height="2"/>
<rect x="692" y="454" width="5" height="2"/>
<rect x="702" y="441" width="1" height="1"/>
<rect x="702" y="455" width="1" height="6"/>
<rect x="700" y="442" width="5" height="13"/>
<rect x="701" y="443" width="3" height="11" fill="#fff"/>
<rect x="710" y="428" width="1" height="9"/>
<rect x="710" y="442" width="1" height="6"/>
<rect x="708" y="437" width="5" height="5"/>
<rect x="709" y="438" width="3" height="3" fill="#fff"/>
<rect x="718" y="434" width="1" height="4"/>
<rect x="718" y="448" width="1" height="14"/>
<rect x="716" y="438" width="5" height="10"/>
<rect x="726" y="449" width="1" height="7"/>
<rect x="724" y="446" width="5" height="3"/>
<rect x="734" y="446" width="1" height="4"/>
<rect x="734" y="459" width="1" height="16"/>
<rect x="732" y="450" width="5" height="9"/>
<rect x="742" y="453" width="1" height="3"/>
<rect x="740" y="447" width="5" height="6"/>
<rect x="750" y="440" width="1" height="3"/>
<rect x="750" y="452" width="1" height="2"/>
<rect x="748" y="443" width="5" height="9"/>
<rect x="749" y="444" width="3" height="7" fill="#fff"/>
<rect x="758" y="440" width="1" height="3"/>
<rect x="758" y="452" width="1" height="4"/>
<rect x="756" y="443" width="5" height="9"/>
<rect x="766" y="434" width="1" height="2"/>
<rect x="764" y="436" width="5" height="16"/>
<rect x="765" y="437" width="3" height="14" fill="#fff"/>
<rect x="774" y="419" width="1" height="1"/>
<rect x="774" y="437" width="1" height="2"/>
<rect x="772" y="420" width="5" height="17"/>
<rect x="773" y="421" width="3" height="15" fill="#fff"/>
<rect x="782" y="420" width="1" height="1"/>
<rect x="782" y="432" width="1" height="2"/>
<rect x="780" y="421" width="5" height="11"/>
<rect x="790" y="428" width="1" height="3"/>
<rect x="790" y="432" width="1" height="1"/>
<rect x="788" y="431" width="5" height="1"/>
<rect x="798" y="425" width="1" height="1"/>
<rect x="798" y="430" width="1" height="7"/>
<rect x="796" y="426" width="5" height="4"/>
<rect x="797" y="427" width="3" height="2" fill="#fff"/>
<rect x="806" y="435" width="1" height="3"/>
<rect x="804" y="425" width="5" height="10"/>
<rect x="814" y="425" width="1" height="7"/>
<rect x="814" y="434" width="1" height="2"/>
<rect x="812" y="432" width="5" height="2"/>
<rect x="822" y="430" width="1" height="2"/>
<rect x="822" y="437" width="1" height="9"/>
<rect x="820" y="432" width="5" height="5"/>
<rect x="830" y="431" width="1" height="3"/>
<rect x="830" y="437" width="1" height="8"/>
<rect x="828" y="434" width="5" height="3"/>
<rect x="829" y="435" width="3" height="1" fill="#fff"/>
<rect x="838" y="430" width="1" height="1"/>
<rect x="836" y="431" width="5" height="2"/>
<rect x="846" y="420" width="1" height="9"/>
<rect x="846" y="432" width="1" height="5"/>
<rect x="844" y="429" width="5" height="3"/>
<rect x="845" y="430" width="3" height="1" fill="#fff"/>
<rect x="854" y="424" width="1" height="4"/>
<rect x="854" y="431" width="1" height="5"/>
<rect x="852" y="428" width="5" height="3"/>
<rect x="853" y="429" width="3" height="1" fill="#fff"/>
<rect x="862" y="422" width="1" height="6"/>
<rect x="862" y="434" width="1" height="2"/>
<rect x="860" y="428" width="5" height="6"/>
<rect x="870" y="428" width="1" height="4"/>
<rect x="870" y="434" width="1" height="8"/>
<rect x="868" y="432" width="5" height="2"/>
<rect x="878" y="429" width="1" height="2"/>
<rect x="878" y="433" width="1" height="6"/>
<rect x="876" y="431" width="5" height="2"/>
<rect x="886" y="432" width="1" height="1"/>
<rect x="884" y="433" width="5" height="2"/>
<rect x="894" y="431" width="1" height="3"/>
<rect x="894" y="444" width="1" height="3"/>
<rect x="892" y="434" width="5" height="10"/>
<rect x="902" y="434" width="1" height="10"/>
<rect x="902" y="446" width="1" height="9"/>
<rect x="900" y="444" width="5" height="2"/>
<rect x="910" y="439" width="1" height="6"/>
<rect x="910" y="461" width="1" height="6"/>
<rect x="908" y="445" width="5" height="16"/>
<rect x="918" y="443" width="1" height="9"/>
<rect x="916" y="452" width="5" height="8"/>
<rect x="917" y="453" width="3" height="6" fill="#fff"/>
<rect x="926" y="449" width="1" height="1"/>
<rect x="926" y="460" width="1" height="20"/>
<rect x="924" y="450" width="5" height="10"/>
<rect x="934" y="459" width="1" height="2"/>
<rect x="934" y="465" width="1" height="3"/>
<rect x="932" y="461" width="5" height="4"/>
<rect x="942" y="435" width="1" height="1"/>
<rect x="940" y="436" width="5" height="28"/>
<rect x="941" y="437" width="3" height="26" fill="#fff"/>
<rect x="950" y="406" width="1" height="9"/>
<rect x="950" y="437" width="1" height="1"/>
<rect x="948" y="415" width="5" height="22"/>
<rect x="949" y="416" width="3" height="20" fill="#fff"/>
<rect x="958" y="396" width="1" height="10"/>
<rect x="958" y="416" width="1" height="20"/>
<rect x="956" y="406" width="5" height="10"/>
<rect x="957" y="407" width="3" height="8" fill="#fff"/>
<rect x="966" y="373" width="1" height="16"/>
<rect x="964" y="389" width="5" height="20"/>
<rect x="965" y="390" width="3" height="18" fill="#fff"/>
<rect x="974" y="367" width="1" height="5"/>
<rect x="974" y="390" width="1" height="5"/>
<rect x="972" y="372" width="5" height="18"/>
<rect x="973" y="373" width="3" height="16" fill="#fff"/>
<rect x="982" y="357" width="1" height="3"/>
<rect x="980" y="360" width="5" height="10"/>
<rect x="981" y="361" width="3" height="8" fill="#fff"/>
<rect x="990" y="266" width="1" height="46"/>
<rect x="990" y="360" width="1" height="1"/>
<rect x="988" y="312" width="5" height="48"/>
<rect x="989" y="313" width="3" height="46" fill="#fff"/>
<rect x="998" y="297" width="1" height="17"/>
<rect x="998" y="316" width="1" height="26"/>
<rect x="996" y="314" width="5" height="2"/>
<rect x="1006" y="280" width="1" height="17"/>
<rect x="1006" y="315" width="1" height="5"/>
<rect x="1004" y="297" width="5" height="18"/>
<rect x="1005" y="298" width="3" height="16" fill="#fff"/>
<rect x="1014" y="288" width="1" height="10"/>
<rect x="1014" y="302" width="1" height="13"/>
<rect x="1012" y="298" width="5" height="4"/>
<rect x="1022" y="300" width="1" height="16"/>
<rect x="1020" y="285" width="5" height="15"/>
<rect x="1021" y="286" width="3" height="13" fill="#fff"/>
<rect x="1030" y="275" width="1" height="3"/>
<rect x="1030" y="280" width="1" height="1"/>
<rect x="1028" y="278" width="5" height="3"/>
<rect x="1029" y="279" width="3" height="1" fill="#fff"/>
<rect x="1038" y="243" width="1" height="8"/>
<rect x="1038" y="279" width="1" height="3"/>
<rect x="1036" y="251" width="5" height="28"/>
<rect x="1037" y="252" width="3" height="26" fill="#fff"/>
<rect x="1046" y="268" width="1" height="2"/>
<rect x="1044" y="253" width="5" height="15"/>
<rect x="1054" y="264" width="1" height="3"/>
<rect x="1052" y="267" width="5" height="19"/>
<rect x="1062" y="283" width="1" height="2"/>
<rect x="1062" y="297" width="1" height="5"/>
<rect x="1060" y="285" width="5" height="12"/>
<rect x="1070" y="276" width="1" height="3"/>
<rect x="1070" y="298" width="1" height="2"/>
<rect x="1068" y="279" width="5" height="19"/>
<rect x="1069" y="280" width="3" height="17" fill="#fff"/>
<rect x="1078" y="283" width="1" height="1"/>
<rect x="1076" y="279" width="5" height="4"/>
<rect x="1077" y="280" width="3" height="2" fill="#fff"/>
<rect x="1086" y="255" width="1" height="6"/>
<rect x="1086" y="280" width="1" height="1"/>
<rect x="1084" y="261" width="5" height="19"/>
<rect x="1085" y="262" width="3" height="17" fill="#fff"/>
<rect x="1094" y="219" width="1" height="2"/>
<rect x="1094" y="262" width="1" height="1"/>
<rect x="1092" y="221" width="5" height="41"/>
<rect x="1093" y="222" width="3" height="39" fill="#fff"/>
<rect x="1102" y="209" width="1" height="13"/>
<rect x="1102" y="241" width="1" height="6"/>
<rect x="1100" y="222" width="5" height="19"/>
<rect x="1110" y="217" width="1" height="8"/>
<rect x="1110" y="241" width="1" height="1"/>
<rect x="1108" y="225" width="5" height="16"/>
<rect x="1109" y="226" width="3" height="14" fill="#fff"/>
<rect x="1118" y="202" width="1" height="1"/>
<rect x="1118" y="224" width="1" height="7"/>
<rect x="1116" y="203" width="5" height="21"/>
<rect x="1117" y="204" width="3" height="19" fill="#fff"/>
<rect x="1126" y="193" width="1" height="5"/>
<rect x="1126" y="201" width="1" height="1"/>
<rect x="1124" y="198" width="5" height="3"/>
<rect x="1125" y="199" width="3" height="1" fill="#fff"/>
<rect x="1134" y="198" width="1" height="1"/>
<rect x="1134" y="214" width="1" height="20"/>
<rect x="1132" y="199" width="5" height="15"/>
<rect x="1142" y="191" width="1" height="6"/>
<rect x="1140" y="197" width="5" height="18"/>
<rect x="1141" y="198" width="3" height="16" fill="#fff"/>
<rect x="1150" y="196" width="1" height="1"/>
<rect x="1150" y="206" width="1" height="5"/>
<rect x="1148" y="197" width="5" height="9"/>
<rect x="1158" y="194" width="1" height="11"/>
<rect x="1158" y="210" width="1" height="1"/>
<rect x="1156" y="205" width="5" height="5"/>
<rect x="1166" y="198" width="1" height="3"/>
<rect x="1166" y="210" width="1" height="4"/>
<rect x="1164" y="201" width="5" height="9"/>
<rect x="1165" y="202" width="3" height="7" fill="#fff"/>
<rect x="1174" y="192" width="1" height="3"/>
<rect x="1174" y="198" width="1" height="1"/>
<rect x="1172" y="195" width="5" height="3"/>
<rect x="1182" y="232" width="1" height="5"/>
<rect x="1180" y="197" width="5" height="35"/>
<rect x="1190" y="221" width="1" height="4"/>
<rect x="1190" y="233" width="1" height="6"/>
<rect x="1188" y="225" width="5" height="8"/>
<rect x="1189" y="226" width="3" height="6" fill="#fff"/>
<rect x="1198" y="199" width="1" height="18"/>
<rect x="1198" y="226" width="1" height="2"/>
<rect x="1196" y="217" width="5" height="9"/>
<rect x="1197" y="218" width="3" height="7" fill="#fff"/>
<rect x="1206" y="204" width="1" height="6"/>
<rect x="1206" y="216" width="1" height="10"/>
<rect x="1204" y="210" width="5" height="6"/>
<rect x="1205" y="211" width="3" height="4" fill="#fff"/>
<rect x="1214" y="205" width="1" height="5"/>
<rect x="1214" y="223" width="1" height="11"/>
<rect x="1212" y="210" width="5" height="13"/>
<rect x="1222" y="212" width="1" height="2"/>
<rect x="1222" y="216" width="1" height="5"/>
<rect x="1220" y="214" width="5" height="2"/>
<rect x="1230" y="203" width="1" height="11"/>
<rect x="1228" y="214" width="5" height="4"/>
<rect x="1238" y="204" width="1" height="1"/>
<rect x="1238" y="217" width="1" height="5"/>
<rect x="1236" y="205" width="5" height="12"/>
<rect x="1237" y="206" width="3" height="10" fill="#fff"/>
<rect x="1246" y="202" width="1" height="3"/>
<rect x="1246" y="209" width="1" height="5"/>
<rect x="1244" y="205" width="5" height="4"/>
<rect x="1254" y="202" width="1" height="7"/>
<rect x="1254" y="210" width="1" height="6"/>
<rect x="1252" y="209" width="5" height="1"/>
<rect x="1262" y="201" width="1" height="8"/>
<rect x="1262" y="213" width="1" height="1"/>
<rect x="1260" y="209" width="5" height="4"/>
<rect x="1270" y="206" width="1" height="5"/>
<rect x="1268" y="204" width="5" height="2"/>
<rect x="1278" y="200" width="1" height="4"/>
<rect x="1278" y="224" width="1" height="25"/>
<rect x="1276" y="204" width="5" height="20"/>
<rect x="1286" y="217" width="1" height="5"/>
<rect x="1286" y="224" width="1" height="14"/>
<rect x="1284" y="222" width="5" height="2"/>
<rect x="1294" y="210" width="1" height="6"/>
<rect x="1294" y="222" width="1" height="13"/>
<rect x="1292" y="216" width="5" height="6"/>
<rect x="1293" y="217" width="3" height="4" fill="#fff"/>
<rect x="1302" y="210" width="1" height="6"/>
<rect x="1302" y="217" width="1" height="4"/>
<rect x="1300" y="216" width="5" height="1"/>
<rect x="1310" y="212" width="1" height="2"/>
<rect x="1310" y="216" width="1" height="2"/>
<rect x="1308" y="214" width="5" height="2"/>
<rect x="1318" y="216" width="1" height="1"/>
<rect x="1316" y="213" width="5" height="3"/>
<rect x="1317" y="214" width="3" height="1" fill="#fff"/>
<rect x="1326" y="193" width="1" height="2"/>
<rect x="1326" y="214" width="1" height="3"/>
<rect x="1324" y="195" width="5" height="19"/>
<rect x="1325" y="196" width="3" height="17" fill="#fff"/>
<rect x="1334" y="140" width="1" height="7"/>
<rect x="1332" y="147" width="5" height="48"/>
<rect x="1333" y="148" width="3" height="46" fill="#fff"/>
<rect x="1342" y="146" width="1" height="3"/>
<rect x="1342" y="156" width="1" height="14"/>
<rect x="1340" y="149" width="5" height="7"/>
<rect x="1350" y="149" width="1" height="4"/>
<rect x="1350" y="156" width="1" height="2"/>
<rect x="1348" y="153" width="5" height="3"/>
<rect x="1349" y="154" width="3" height="1" fill="#fff"/>
<rect x="1358" y="142" width="1" height="4"/>
<rect x="1358" y="151" width="1" height="1"/>
<rect x="1356" y="146" width="5" height="5"/>
<rect x="1357" y="147" width="3" height="3" fill="#fff"/>
<rect x="1366" y="182" width="1" height="6"/>
<rect x="1364" y="148" width="5" height="34"/>
<rect x="1374" y="171" width="1" height="11"/>
<rect x="1374" y="185" width="1" height="9"/>
<rect x="1372" y="182" width="5" height="3"/>
<rect x="1382" y="157" width="1" height="5"/>
<rect x="1382" y="183" width="1" height="10"/>
<rect x="1380" y="162" width="5" height="21"/>
<rect x="1381" y="163" width="3" height="19" fill="#fff"/>
<rect x="1390" y="138" width="1" height="2"/>
<rect x="1390" y="164" width="1" height="1"/>
<rect x="1388" y="140" width="5" height="24"/>
<rect x="1389" y="141" width="3" height="22" fill="#fff"/>
<rect x="1398" y="99" width="1" height="9"/>
<rect x="1398" y="137" width="1" height="5"/>
<rect x="1396" y="108" width="5" height="29"/>
<rect x="1397" y="109" width="3" height="27" fill="#fff"/>
<rect x="1406" y="100" width="1" height="1"/>
<rect x="1406" y="106" width="1" height="1"/>
<rect x="1404" y="101" width="5" height="5"/>
<rect x="1414" y="101" width="1" height="5"/>
<rect x="1414" y="115" width="1" height="8"/>
<rect x="1412" y="106" width="5" height="9"/>
<rect x="1422" y="99" width="1" height="10"/>
<rect x="1422" y="115" width="1" height="8"/>
<rect x="1420" y="109" width="5" height="6"/>
<rect x="1421" y="110" width="3" height="4" fill="#fff"/>
<rect x="1430" y="83" width="1" height="6"/>
<rect x="1430" y="110" width="1" height="1"/>
<rect x="1428" y="89" width="5" height="21"/>
<rect x="1429" y="90" width="3" height="19" fill="#fff"/>
<rect x="1438" y="50" width="1" height="7"/>
<rect x="1438" y="89" width="1" height="2"/>
<rect x="1436" y="57" width="5" height="32"/>
<rect x="1437" y="58" width="3" height="30" fill="#fff"/>
<rect x="1446" y="56" width="1" height="2"/>
<rect x="1446" y="90" width="1" height="19"/>
<rect x="1444" y="58" width="5" height="32"/></g>
<g shape-rendering="crispEdges">
<rect x="1403" y="74" width="112" height="6" fill="#00ff00"/>
<rect x="1359.5" y="40.5" width="61" height="18" fill="#fff" stroke="#ff0000" stroke-width="1"/>
<rect x="1421.5" y="47.5" width="2" height="3" fill="#fff" stroke="#ff0000" stroke-width="1"/>
<rect x="1329.5" y="66.5" width="73" height="24" fill="#fff" stroke="#ff0000" stroke-width="1"/>
<rect x="1325.5" y="76.5" width="3" height="3" fill="#fff" stroke="#ff0000" stroke-width="1"/>
<rect x="1318" y="78" width="7" height="1" fill="#ff0000"/>
<rect x="1683.5" y="63.5" width="4" height="4" fill="#fff" stroke="#ff0000" stroke-width="1"/>
<rect x="1683.5" y="102.5" width="4" height="4" fill="#fff" stroke="#0000ff" stroke-width="1"/>
<rect x="1683.5" y="121.5" width="4" height="4" fill="#fff" stroke="#0000ff" stroke-width="1"/>
<rect x="-0.5" y="121.5" width="4" height="4" fill="#fff" stroke="#0000ff" stroke-width="1"/>
</g>
<text x="1361.2" y="55.8" font-size="16" fill="#ff0000" textLength="57.3" lengthAdjust="spacingAndGlyphs" >28962.7</text>
<text x="1331" y="87" font-size="22.5" fill="#ff0000" textLength="70" lengthAdjust="spacingAndGlyphs" >28551.6</text>
<text x="1528" y="97" font-size="21" fill="#00ff00" textLength="106" lengthAdjust="spacingAndGlyphs" font-weight="300" >多空转折点</text>
<g shape-rendering="crispEdges"><g fill="#c0c0c0"><rect x="6" y="649" width="1" height="79"/><rect x="14" y="656" width="1" height="72"/><rect x="22" y="662" width="1" height="66"/><rect x="30" y="662" width="1" height="66"/><rect x="38" y="665" width="1" height="63"/><rect x="46" y="673" width="1" height="55"/><rect x="54" y="676" width="1" height="52"/><rect x="62" y="682" width="1" height="46"/><rect x="70" y="687" width="1" height="41"/><rect x="78" y="689" width="1" height="39"/><rect x="86" y="692" width="1" height="36"/><rect x="94" y="698" width="1" height="30"/><rect x="102" y="701" width="1" height="27"/><rect x="110" y="705" width="1" height="23"/><rect x="118" y="707" width="1" height="21"/><rect x="126" y="702" width="1" height="26"/><rect x="134" y="702" width="1" height="26"/><rect x="142" y="701" width="1" height="27"/><rect x="150" y="699" width="1" height="29"/><rect x="158" y="700" width="1" height="28"/><rect x="166" y="699" width="1" height="29"/><rect x="174" y="699" width="1" height="29"/><rect x="182" y="696" width="1" height="32"/><rect x="190" y="692" width="1" height="36"/><rect x="198" y="692" width="1" height="36"/><rect x="206" y="693" width="1" height="35"/><rect x="214" y="695" width="1" height="33"/><rect x="222" y="693" width="1" height="35"/><rect x="230" y="693" width="1" height="35"/><rect x="238" y="696" width="1" height="32"/><rect x="246" y="700" width="1" height="28"/><rect x="254" y="708" width="1" height="20"/><rect x="262" y="712" width="1" height="16"/><rect x="270" y="712" width="1" height="16"/><rect x="278" y="713" width="1" height="15"/><rect x="286" y="717" width="1" height="11"/><rect x="294" y="724" width="1" height="4"/><rect x="302" y="728" width="1" height="4"/><rect x="310" y="728" width="1" height="11"/><rect x="318" y="728" width="1" height="11"/><rect x="326" y="728" width="1" height="8"/><rect x="334" y="728" width="1" height="6"/><rect x="342" y="728" width="1" height="5"/><rect x="350" y="728" width="1" height="4"/><rect x="358" y="728" width="1" height="4"/><rect x="366" y="728" width="1" height="1"/><rect x="374" y="725" width="1" height="3"/><rect x="382" y="713" width="1" height="15"/><rect x="390" y="702" width="1" height="26"/><rect x="398" y="697" width="1" height="31"/><rect x="406" y="693" width="1" height="35"/><rect x="414" y="691" width="1" height="37"/><rect x="422" y="692" width="1" height="36"/><rect x="430" y="693" width="1" height="35"/><rect x="438" y="693" width="1" height="35"/><rect x="446" y="696" width="1" height="32"/><rect x="454" y="698" width="1" height="30"/><rect x="462" y="695" width="1" height="33"/><rect x="470" y="693" width="1" height="35"/><rect x="478" y="693" width="1" height="35"/><rect x="486" y="690" width="1" height="38"/><rect x="494" y="695" width="1" height="33"/><rect x="502" y="696" width="1" height="32"/><rect x="510" y="698" width="1" height="30"/><rect x="518" y="697" width="1" height="31"/><rect x="526" y="693" width="1" height="35"/><rect x="534" y="696" width="1" height="32"/><rect x="542" y="699" width="1" height="29"/><rect x="550" y="701" width="1" height="27"/><rect x="558" y="702" width="1" height="26"/><rect x="566" y="711" width="1" height="17"/><rect x="574" y="713" width="1" height="15"/><rect x="582" y="715" width="1" height="13"/><rect x="590" y="715" width="1" height="13"/><rect x="598" y="712" width="1" height="16"/><rect x="606" y="709" width="1" height="19"/><rect x="614" y="711" width="1" height="17"/><rect x="622" y="711" width="1" height="17"/><rect x="630" y="712" width="1" height="16"/><rect x="638" y="713" width="1" height="15"/><rect x="646" y="717" width="1" height="11"/><rect x="654" y="724" width="1" height="4"/><rect x="662" y="725" width="1" height="3"/><rect x="670" y="726" width="1" height="2"/><rect x="678" y="727" width="1" height="1"/><rect x="686" y="726" width="1" height="2"/><rect x="694" y="724" width="1" height="4"/><rect x="702" y="719" width="1" height="9"/><rect x="710" y="715" width="1" height="13"/><rect x="718" y="714" width="1" height="14"/><rect x="726" y="714" width="1" height="14"/><rect x="734" y="716" width="1" height="12"/><rect x="742" y="716" width="1" height="12"/><rect x="750" y="715" width="1" height="13"/><rect x="758" y="714" width="1" height="14"/><rect x="766" y="713" width="1" height="15"/><rect x="774" y="707" width="1" height="21"/><rect x="782" y="705" width="1" height="23"/><rect x="790" y="703" width="1" height="25"/><rect x="798" y="702" width="1" height="26"/><rect x="806" y="703" width="1" height="25"/><rect x="814" y="703" width="1" height="25"/><rect x="822" y="705" width="1" height="23"/><rect x="830" y="706" width="1" height="22"/><rect x="838" y="707" width="1" height="21"/><rect x="846" y="707" width="1" height="21"/><rect x="854" y="707" width="1" height="21"/><rect x="862" y="708" width="1" height="20"/><rect x="870" y="709" width="1" height="19"/><rect x="878" y="710" width="1" height="18"/><rect x="886" y="712" width="1" height="16"/><rect x="894" y="715" width="1" height="13"/><rect x="902" y="718" width="1" height="10"/><rect x="910" y="725" width="1" height="3"/><rect x="918" y="727" width="1" height="1"/><rect x="926" y="728" width="1" height="3"/><rect x="934" y="728" width="1" height="7"/><rect x="942" y="728" width="1" height="4"/><rect x="950" y="726" width="1" height="2"/><rect x="958" y="717" width="1" height="11"/><rect x="966" y="707" width="1" height="21"/><rect x="974" y="696" width="1" height="32"/><rect x="982" y="684" width="1" height="44"/><rect x="990" y="664" width="1" height="64"/><rect x="998" y="650" width="1" height="78"/><rect x="1006" y="636" width="1" height="92"/><rect x="1014" y="627" width="1" height="101"/><rect x="1022" y="617" width="1" height="111"/><rect x="1030" y="609" width="1" height="119"/><rect x="1038" y="598" width="1" height="130"/><rect x="1046" y="594" width="1" height="134"/><rect x="1054" y="597" width="1" height="131"/><rect x="1062" y="603" width="1" height="125"/><rect x="1070" y="606" width="1" height="122"/><rect x="1078" y="608" width="1" height="120"/><rect x="1086" y="609" width="1" height="119"/><rect x="1094" y="601" width="1" height="127"/><rect x="1102" y="600" width="1" height="128"/><rect x="1110" y="598" width="1" height="130"/><rect x="1118" y="592" width="1" height="136"/><rect x="1126" y="588" width="1" height="140"/><rect x="1134" y="590" width="1" height="138"/><rect x="1142" y="590" width="1" height="138"/><rect x="1150" y="593" width="1" height="135"/><rect x="1158" y="596" width="1" height="132"/><rect x="1166" y="601" width="1" height="127"/><rect x="1174" y="604" width="1" height="124"/><rect x="1182" y="615" width="1" height="113"/><rect x="1190" y="624" width="1" height="104"/><rect x="1198" y="628" width="1" height="100"/><rect x="1206" y="633" width="1" height="95"/><rect x="1214" y="643" width="1" height="85"/><rect x="1222" y="648" width="1" height="80"/><rect x="1230" y="653" width="1" height="75"/><rect x="1238" y="656" width="1" height="72"/><rect x="1246" y="660" width="1" height="68"/><rect x="1254" y="664" width="1" height="64"/><rect x="1262" y="670" width="1" height="58"/><rect x="1270" y="676" width="1" height="52"/><rect x="1278" y="682" width="1" height="46"/><rect x="1286" y="686" width="1" height="42"/><rect x="1294" y="689" width="1" height="39"/><rect x="1302" y="697" width="1" height="31"/><rect x="1310" y="698" width="1" height="30"/><rect x="1318" y="693" width="1" height="35"/><rect x="1326" y="685" width="1" height="43"/><rect x="1334" y="679" width="1" height="49"/><rect x="1342" y="672" width="1" height="56"/><rect x="1350" y="666" width="1" height="62"/><rect x="1358" y="661" width="1" height="67"/><rect x="1366" y="666" width="1" height="62"/><rect x="1374" y="671" width="1" height="57"/><rect x="1382" y="669" width="1" height="59"/><rect x="1390" y="666" width="1" height="62"/><rect x="1398" y="654" width="1" height="74"/><rect x="1406" y="650" width="1" height="78"/><rect x="1414" y="643" width="1" height="85"/><rect x="1422" y="637" width="1" height="91"/><rect x="1430" y="629" width="1" height="99"/><rect x="1438" y="624" width="1" height="104"/><rect x="1446" y="624" width="1" height="104"/></g></g>
<polyline points="0.0,605.4 8.0,617.0 16.0,626.8 24.0,636.4 35.0,645.0 48.0,654.0 64.0,663.5 83.0,674.0 96.0,680.0 112.0,690.0 120.0,693.0 140.0,699.0 160.0,701.3 180.0,700.5 200.0,697.6 220.0,694.7 250.0,694.7 260.0,697.6 270.0,700.5 290.0,704.8 310.0,716.3 330.0,726.4 350.0,732.2 365.0,734.2 380.0,732.2 400.0,720.6 420.0,709.1 440.0,697.6 460.0,693.3 480.0,692.7 500.0,693.3 510.0,693.8 525.0,693.3 540.0,693.8 560.0,696.7 570.0,699.0 590.0,704.2 610.0,709.1 630.0,711.1 650.0,712.9 670.0,715.8 690.0,719.2 710.0,721.2 730.0,719.8 750.0,716.3 770.0,713.4 790.0,710.6 810.0,706.2 830.0,704.2 860.0,704.2 880.0,707.1 900.0,709.1 920.0,714.9 935.0,720.6 950.0,724.4 965.0,723.5 980.0,716.3 990.0,709.1 1000.0,693.3 1010.0,677.4 1020.0,661.6 1030.0,647.2 1040.0,635.6 1050.0,622.7 1060.0,612.6 1070.0,607.4 1080.0,605.4 1090.0,602.5 1100.0,601.1 1120.0,600.5 1130.0,598.7 1140.0,596.7 1160.0,593.0 1175.0,593.9 1190.0,599.6 1210.0,609.7 1230.0,627.0 1250.0,640.0 1270.0,652.4 1290.0,664.5 1310.0,674.5 1330.0,681.7 1350.0,681.7 1370.0,676.0 1390.0,667.3 1410.0,660.1 1430.0,653.5 1446.0,644.9" fill="none" shape-rendering="crispEdges" stroke="#ff0000" stroke-width="1" stroke-dasharray="3 3"/>
<line x1="0" y1="786.5" x2="1688" y2="786.5" stroke="#c0c0c0" stroke-width="1" stroke-dasharray="3 3" stroke-dashoffset="1"/>
<line x1="0" y1="837.5" x2="1688" y2="837.5" stroke="#c0c0c0" stroke-width="1" stroke-dasharray="3 3" stroke-dashoffset="1"/>
<line x1="0" y1="898.5" x2="1688" y2="898.5" stroke="#c0c0c0" stroke-width="1" stroke-dasharray="3 3" stroke-dashoffset="1"/>
<polyline points="0.5,823.4 6.5,822.2 14.5,828.6 22.5,828.6 30.5,820.5 38.5,824.3 46.5,832.9 54.5,828.6 62.5,832.9 70.5,834.3 78.5,829.1 86.5,830.9 94.5,837.2 102.5,834.3 110.5,836.6 118.5,833.8 126.5,822.8 134.5,829.1 142.5,827.7 150.5,827.7 158.5,824.3 166.5,823.4 174.5,825.7 182.5,818.5 190.5,814.7 198.5,819.9 206.5,826.3 214.5,823.4 222.5,822.8 230.5,823.4 238.5,827.1 246.5,832.9 254.5,847.3 262.5,841.5 270.5,830.0 278.5,837.2 286.5,838.7 294.5,848.7 302.5,861.7 310.5,859.7 318.5,838.7 326.5,836.6 334.5,836.6 342.5,838.7 350.5,837.2 358.5,837.2 366.5,832.9 374.5,822.2 382.5,807.0 390.5,804.1 398.5,814.2 406.5,812.7 414.5,817.6 422.5,822.8 430.5,822.8 438.5,822.2 446.5,830.0 454.5,828.0 462.5,814.2 470.5,814.2 478.5,812.7 486.5,815.6 494.5,836.6 502.5,824.3 510.5,830.0 518.5,822.2 526.5,812.7 534.5,834.9 542.5,830.9 550.5,832.9 558.5,830.0 566.5,846.4 574.5,836.6 582.5,837.2 590.5,832.0 598.5,826.3 606.5,829.1 614.5,829.1 622.5,830.0 630.5,833.8 638.5,837.8 646.5,838.7 654.5,851.0 662.5,837.8 670.5,840.1 678.5,837.8 686.5,834.3 694.5,830.9 702.5,823.4 710.5,820.5 718.5,828.0 726.5,829.1 734.5,837.2 742.5,832.9 750.5,826.3 758.5,834.3 766.5,823.4 774.5,814.2 782.5,822.8 790.5,822.8 798.5,820.5 806.5,827.1 814.5,826.3 822.5,830.0 830.5,828.6 838.5,826.3 846.5,824.3 854.5,823.4 862.5,829.1 870.5,828.6 878.5,828.6 886.5,831.5 894.5,841.5 902.5,844.4 910.5,858.8 918.5,847.3 926.5,853.9 934.5,858.0 942.5,832.9 950.5,817.0 958.5,812.7 966.5,804.1 974.5,797.4 982.5,794.0 990.5,782.5 998.5,785.3 1006.5,782.5 1014.5,785.3 1022.5,782.5 1030.5,781.0 1038.5,776.1 1046.5,791.1 1054.5,802.6 1062.5,809.0 1070.5,804.1 1078.5,804.1 1086.5,799.2 1094.5,790.5 1102.5,802.1 1110.5,798.3 1118.5,793.4 1126.5,793.4 1134.5,802.1 1142.5,798.3 1150.5,802.6 1158.5,806.1 1166.5,804.1 1174.5,802.6 1182.5,822.8 1190.5,820.5 1198.5,817.0 1206.5,814.7 1214.5,822.2 1222.5,820.5 1230.5,821.4 1238.5,816.5 1246.5,818.5 1254.5,819.4 1262.5,821.4 1270.5,817.0 1278.5,830.9 1286.5,830.0 1294.5,826.3 1302.5,826.3 1310.5,825.1 1318.5,825.1 1326.5,815.6 1334.5,795.4 1342.5,801.2 1350.5,799.8 1358.5,798.3 1366.5,825.1 1374.5,826.3 1382.5,818.5 1390.5,811.3 1398.5,799.8 1406.5,798.3 1414.5,804.9 1422.5,802.6 1430.5,796.9 1438.5,790.5 1446.5,809.0" fill="none" shape-rendering="crispEdges" stroke="#1e90ff" stroke-width="1"/>
<defs>
<linearGradient id="gtab" x1="0" y1="0" x2="0" y2="1"><stop offset="0" stop-color="#fb5a5a"/><stop offset="1" stop-color="#e23434"/></linearGradient>
<linearGradient id="glow" x1="0" y1="0" x2="0" y2="1"><stop offset="0" stop-color="#e53a3a"/><stop offset="0.5" stop-color="#cc1c1c"/><stop offset="1" stop-color="#ae0202"/></linearGradient>
<linearGradient id="gbtn" x1="0" y1="0" x2="0" y2="1"><stop offset="0" stop-color="#f4f4f4"/><stop offset="0.45" stop-color="#e6e6e6"/><stop offset="0.5" stop-color="#d8d8d8"/><stop offset="1" stop-color="#d0d0d0"/></linearGradient>
</defs>
<rect x="0" y="42" width="222" height="66" fill="#fff"/>
<path d="M1.5,43.5 H52.5 V67.5 H110.5 V106.5 H1.5 Z" fill="url(#glow)" stroke="#b00000" stroke-width="1"/>
<path d="M2,44 H52 V67 H2 Z" fill="url(#gtab)"/>
<rect x="5" y="66" width="44" height="1" fill="#8a0000"/><rect x="5" y="67" width="44" height="1" fill="#f07070"/>
<path d="M168.5,43.5 H219.5 V106.5 H112.5 V67.5 H168.5 Z" fill="url(#glow)" stroke="#b00000" stroke-width="1"/>
<path d="M169,44 H219 V67 H169 Z" fill="url(#gtab)"/>
<rect x="172" y="66" width="44" height="1" fill="#8a0000"/><rect x="172" y="67" width="44" height="1" fill="#f07070"/>
<rect x="2" y="68" width="108" height="38" fill="url(#glow)"/>
<rect x="113" y="68" width="106" height="38" fill="url(#glow)"/>
<rect x="55.5" y="43.5" width="110" height="21" fill="#fff" stroke="#a8a8b4" stroke-width="1"/>
<rect x="56.5" y="44.5" width="19.5" height="19" fill="url(#gbtn)" stroke="#c4c4c8" stroke-width="1"/>
<rect x="144.5" y="44.5" width="20.5" height="19" fill="url(#gbtn)" stroke="#c4c4c8" stroke-width="1"/>
<path d="M63,52 L68,52 L65.5,55 Z" fill="#5060c8"/>
<path d="M151.5,55 L157,55 L154.25,52 Z" fill="#5060c8"/>
<text x="140.5" y="58" font-size="12" fill="#000" text-anchor="end">1.00</text>
<text x="13.4" y="58.6" font-size="11.3" fill="#fff" textLength="25.3" lengthAdjust="spacingAndGlyphs">SELL</text>
<text x="180.5" y="58.6" font-size="11.3" fill="#fff" textLength="24.5" lengthAdjust="spacingAndGlyphs">BUY</text>
<text x="17.3" y="97.8" font-size="12" font-weight="bold" fill="#fff" textLength="34" lengthAdjust="spacingAndGlyphs">28396</text>
<text x="127.1" y="97.8" font-size="12" font-weight="bold" fill="#fff" textLength="34.7" lengthAdjust="spacingAndGlyphs">28419</text>
<rect x="56.7" y="94.5" width="3.5" height="3.5" fill="#fff"/>
<rect x="167" y="94.5" width="3.5" height="3.5" fill="#fff"/>
<text x="61.6" y="97.8" font-size="33" fill="#fff">0</text>
<text x="172" y="97.8" font-size="33" fill="#fff">0</text>
<line x1="1278" y1="241" x2="1441" y2="57" stroke="#ff0000" stroke-width="3" stroke-linecap="butt"/>
<path d="M1441,57 L1433.2,61.5 L1440.5,66.4 Z" fill="#ff0000" stroke="#ff0000" stroke-width="1.5" stroke-linejoin="round"/>
<path d="M1443,55.3 L1433.2,61.5 L1440.5,66.4 Z" fill="#ff0000" stroke="#ff0000" stroke-width="1.5"/>
<line x1="1443" y1="56" x2="1459.6" y2="112.9" stroke="#ff0000" stroke-width="3" stroke-linecap="butt"/>
<path d="M1459.6,112.9 L1452.2,103.5 L1461.8,100.5 Z" fill="#ff0000" stroke="#ff0000" stroke-width="1.5" stroke-linejoin="round"/>
<line x1="1157.5" y1="601.4" x2="1314.1" y2="698.9" stroke="#ff0000" stroke-width="3" stroke-linecap="butt"/>
<path d="M1314.1,698.9 L1301.8,696.8 L1307.7,688.8 Z" fill="#ff0000" stroke="#ff0000" stroke-width="1.5" stroke-linejoin="round"/>
<line x1="1314.1" y1="698.9" x2="1436.8" y2="630.2" stroke="#ff0000" stroke-width="3" stroke-linecap="butt"/>
<path d="M1436.8,630.2 L1424.3,631.8 L1428.6,639.6 Z" fill="#ff0000" stroke="#ff0000" stroke-width="1.5" stroke-linejoin="round"/>
<g font-family='"Liberation Sans", sans-serif'>
<rect x="1689" y="144" width="3" height="1" fill="#000"/>
<text x="1694" y="148" font-size="9.5" fill="#000" textLength="33" lengthAdjust="spacingAndGlyphs" >27625.0</text>
<rect x="1689" y="177" width="3" height="1" fill="#000"/>
<text x="1694" y="181" font-size="9.5" fill="#000" textLength="33" lengthAdjust="spacingAndGlyphs" >27149.0</text>
<rect x="1689" y="210" width="3" height="1" fill="#000"/>
<text x="1694" y="214" font-size="9.5" fill="#000" textLength="33" lengthAdjust="spacingAndGlyphs" >26687.0</text>
<rect x="1689" y="243" width="3" height="1" fill="#000"/>
<text x="1694" y="247" font-size="9.5" fill="#000" textLength="33" lengthAdjust="spacingAndGlyphs" >26211.0</text>
<rect x="1689" y="276" width="3" height="1" fill="#000"/>
<text x="1694" y="280" font-size="9.5" fill="#000" textLength="33" lengthAdjust="spacingAndGlyphs" >25749.0</text>
<rect x="1689" y="309" width="3" height="1" fill="#000"/>
<text x="1694" y="313" font-size="9.5" fill="#000" textLength="33" lengthAdjust="spacingAndGlyphs" >25273.0</text>
<rect x="1689" y="342" width="3" height="1" fill="#000"/>
<text x="1694" y="346" font-size="9.5" fill="#000" textLength="33" lengthAdjust="spacingAndGlyphs" >24811.0</text>
<rect x="1689" y="375" width="3" height="1" fill="#000"/>
<text x="1694" y="379" font-size="9.5" fill="#000" textLength="33" lengthAdjust="spacingAndGlyphs" >24335.0</text>
<rect x="1689" y="408" width="3" height="1" fill="#000"/>
<text x="1694" y="412" font-size="9.5" fill="#000" textLength="33" lengthAdjust="spacingAndGlyphs" >23873.0</text>
<rect x="1689" y="441" width="3" height="1" fill="#000"/>
<text x="1694" y="445" font-size="9.5" fill="#000" textLength="33" lengthAdjust="spacingAndGlyphs" >23397.0</text>
<rect x="1689" y="474" width="3" height="1" fill="#000"/>
<text x="1694" y="478" font-size="9.5" fill="#000" textLength="33" lengthAdjust="spacingAndGlyphs" >22935.0</text>
<rect x="1689" y="507" width="3" height="1" fill="#000"/>
<text x="1694" y="511" font-size="9.5" fill="#000" textLength="33" lengthAdjust="spacingAndGlyphs" >22459.0</text>
<rect x="1689" y="540" width="3" height="1" fill="#000"/>
<text x="1694" y="544" font-size="9.5" fill="#000" textLength="33" lengthAdjust="spacingAndGlyphs" >21997.0</text>
<rect x="1689" y="573" width="3" height="1" fill="#000"/>
<text x="1694" y="577" font-size="9.5" fill="#000" textLength="33" lengthAdjust="spacingAndGlyphs" >21535.0</text>
<rect x="1689" y="45" width="3" height="1" fill="#000"/>
<text x="1694" y="49" font-size="9.5" fill="#000" textLength="33" lengthAdjust="spacingAndGlyphs" >29033.0</text>
<rect x="1689" y="111" width="3" height="1" fill="#000"/>
<text x="1694" y="115" font-size="9.5" fill="#000" textLength="33" lengthAdjust="spacingAndGlyphs" >28087.0</text>
<rect x="1690" y="43" width="41" height="11" fill="#ff0000"/>
<text x="1694" y="52" font-size="9.5" fill="#fff" textLength="33" lengthAdjust="spacingAndGlyphs" >28962.7</text>
<rect x="1690" y="59" width="41" height="11" fill="#ff0000"/>
<text x="1694" y="68" font-size="9.5" fill="#fff" textLength="33" lengthAdjust="spacingAndGlyphs" >28735.9</text>
<rect x="1690" y="72" width="41" height="11" fill="#32cd32"/>
<text x="1694" y="81" font-size="9.5" fill="#fff" textLength="33" lengthAdjust="spacingAndGlyphs" >28551.6</text>
<rect x="1690" y="84" width="41" height="11" fill="#000000"/>
<text x="1694" y="93" font-size="9.5" fill="#fff" textLength="33" lengthAdjust="spacingAndGlyphs" >28397.5</text>
<rect x="1690" y="98" width="41" height="11" fill="#0000ff"/>
<text x="1694" y="107" font-size="9.5" fill="#fff" textLength="33" lengthAdjust="spacingAndGlyphs" >28183.1</text>
<rect x="1690" y="117" width="41" height="11" fill="#0000ff"/>
<text x="1694" y="126" font-size="9.5" fill="#fff" textLength="33" lengthAdjust="spacingAndGlyphs" >27913.8</text>
<rect x="1689" y="580" width="3" height="1" fill="#000"/>
<text x="1692" y="589" font-size="9.5" fill="#000" textLength="22.5" lengthAdjust="spacingAndGlyphs" >715.8</text>
<rect x="1689" y="727" width="3" height="1" fill="#000"/>
<text x="1692.5" y="731" font-size="9.5" fill="#000" textLength="17" lengthAdjust="spacingAndGlyphs" >0.00</text>
<text x="1691.7" y="745" font-size="9.5" fill="#000" textLength="31.3" lengthAdjust="spacingAndGlyphs" >-100.05</text>
<text x="1691.5" y="761" font-size="9.5" fill="#000" textLength="14" lengthAdjust="spacingAndGlyphs" >100</text>
<text x="1691.5" y="790" font-size="9.5" fill="#000" textLength="10" lengthAdjust="spacingAndGlyphs" >80</text>
<text x="1691.5" y="841" font-size="9.5" fill="#000" textLength="10" lengthAdjust="spacingAndGlyphs" >50</text>
<text x="1691.5" y="902" font-size="9.5" fill="#000" textLength="10" lengthAdjust="spacingAndGlyphs" >15</text>
<text x="1691.5" y="921" font-size="9.5" fill="#000" textLength="5" lengthAdjust="spacingAndGlyphs" >0</text>
<text x="12.8" y="35" font-size="9.5" fill="#000" textLength="59.8" lengthAdjust="spacingAndGlyphs" >JPN225-,Daily</text>
<text x="78.8" y="35" font-size="9.5" fill="#000" textLength="140.7" lengthAdjust="spacingAndGlyphs" >28842.5 28857.5 28127.5 28397.5</text>
<path d="M1,34 L8,34 L4.5,30 Z" fill="#000"/>
<text x="2.5" y="591" font-size="9.5" fill="#000" textLength="127.5" lengthAdjust="spacingAndGlyphs" >MACD(12,26,9) 505.55 402.60</text>
<text x="2.5" y="763" font-size="9.5" fill="#000" textLength="67" lengthAdjust="spacingAndGlyphs" >RSI(14) 66.1587</text>
<rect x="62" y="925" width="1" height="3" fill="#000"/>
<text x="61" y="937" font-size="9.5" fill="#000" textLength="50.5" lengthAdjust="spacingAndGlyphs" >26 Jun 2020</text>
<rect x="126" y="925" width="1" height="3" fill="#000"/>
<text x="125" y="937" font-size="9.5" fill="#000" textLength="42.3" lengthAdjust="spacingAndGlyphs" >6 Jul 2020</text>
<rect x="190" y="925" width="1" height="3" fill="#000"/>
<text x="189" y="937" font-size="9.5" fill="#000" textLength="47.4" lengthAdjust="spacingAndGlyphs" >15 Jul 2020</text>
<rect x="254" y="925" width="1" height="3" fill="#000"/>
<text x="253" y="937" font-size="9.5" fill="#000" textLength="47.4" lengthAdjust="spacingAndGlyphs" >24 Jul 2020</text>
<rect x="318" y="925" width="1" height="3" fill="#000"/>
<text x="317" y="937" font-size="9.5" fill="#000" textLength="46.4" lengthAdjust="spacingAndGlyphs" >3 Aug 2020</text>
<rect x="382" y="925" width="1" height="3" fill="#000"/>
<text x="381" y="937" font-size="9.5" fill="#000" textLength="51.5" lengthAdjust="spacingAndGlyphs" >12 Aug 2020</text>
<rect x="446" y="925" width="1" height="3" fill="#000"/>
<text x="445" y="937" font-size="9.5" fill="#000" textLength="51.5" lengthAdjust="spacingAndGlyphs" >21 Aug 2020</text>
<rect x="510" y="925" width="1" height="3" fill="#000"/>
<text x="509" y="937" font-size="9.5" fill="#000" textLength="51.5" lengthAdjust="spacingAndGlyphs" >31 Aug 2020</text>
<rect x="574" y="925" width="1" height="3" fill="#000"/>
<text x="573" y="937" font-size="9.5" fill="#000" textLength="46.9" lengthAdjust="spacingAndGlyphs" >9 Sep 2020</text>
<rect x="638" y="925" width="1" height="3" fill="#000"/>
<text x="637" y="937" font-size="9.5" fill="#000" textLength="52.0" lengthAdjust="spacingAndGlyphs" >18 Sep 2020</text>
<rect x="702" y="925" width="1" height="3" fill="#000"/>
<text x="701" y="937" font-size="9.5" fill="#000" textLength="52.0" lengthAdjust="spacingAndGlyphs" >28 Sep 2020</text>
<rect x="766" y="925" width="1" height="3" fill="#000"/>
<text x="765" y="937" font-size="9.5" fill="#000" textLength="44.8" lengthAdjust="spacingAndGlyphs" >7 Oct 2020</text>
<rect x="830" y="925" width="1" height="3" fill="#000"/>
<text x="829" y="937" font-size="9.5" fill="#000" textLength="49.9" lengthAdjust="spacingAndGlyphs" >16 Oct 2020</text>
<rect x="894" y="925" width="1" height="3" fill="#000"/>
<text x="893" y="937" font-size="9.5" fill="#000" textLength="49.9" lengthAdjust="spacingAndGlyphs" >26 Oct 2020</text>
<rect x="958" y="925" width="1" height="3" fill="#000"/>
<text x="957" y="937" font-size="9.5" fill="#000" textLength="46.9" lengthAdjust="spacingAndGlyphs" >4 Nov 2020</text>
<rect x="1022" y="925" width="1" height="3" fill="#000"/>
<text x="1021" y="937" font-size="9.5" fill="#000" textLength="52.0" lengthAdjust="spacingAndGlyphs" >13 Nov 2020</text>
<rect x="1086" y="925" width="1" height="3" fill="#000"/>
<text x="1085" y="937" font-size="9.5" fill="#000" textLength="52.0" lengthAdjust="spacingAndGlyphs" >23 Nov 2020</text>
<rect x="1150" y="925" width="1" height="3" fill="#000"/>
<text x="1149" y="937" font-size="9.5" fill="#000" textLength="46.9" lengthAdjust="spacingAndGlyphs" >2 Dec 2020</text>
<rect x="1214" y="925" width="1" height="3" fill="#000"/>
<text x="1213" y="937" font-size="9.5" fill="#000" textLength="51.3" lengthAdjust="spacingAndGlyphs" >11 Dec 2020</text>
<rect x="1278" y="925" width="1" height="3" fill="#000"/>
<text x="1277" y="937" font-size="9.5" fill="#000" textLength="52.0" lengthAdjust="spacingAndGlyphs" >21 Dec 2020</text>
<rect x="1342" y="925" width="1" height="3" fill="#000"/>
<text x="1341" y="937" font-size="9.5" fill="#000" textLength="52.0" lengthAdjust="spacingAndGlyphs" >30 Dec 2020</text>
<rect x="1406" y="925" width="1" height="3" fill="#000"/>
<text x="1405" y="937" font-size="9.5" fill="#000" textLength="50.5" lengthAdjust="spacingAndGlyphs" >10 Jan 2021</text>
<text x="-3" y="937" font-size="9.5" fill="#000" textLength="50.5" lengthAdjust="spacingAndGlyphs" >17 Jun 2020</text>
</g>
</svg>
</body></html>
